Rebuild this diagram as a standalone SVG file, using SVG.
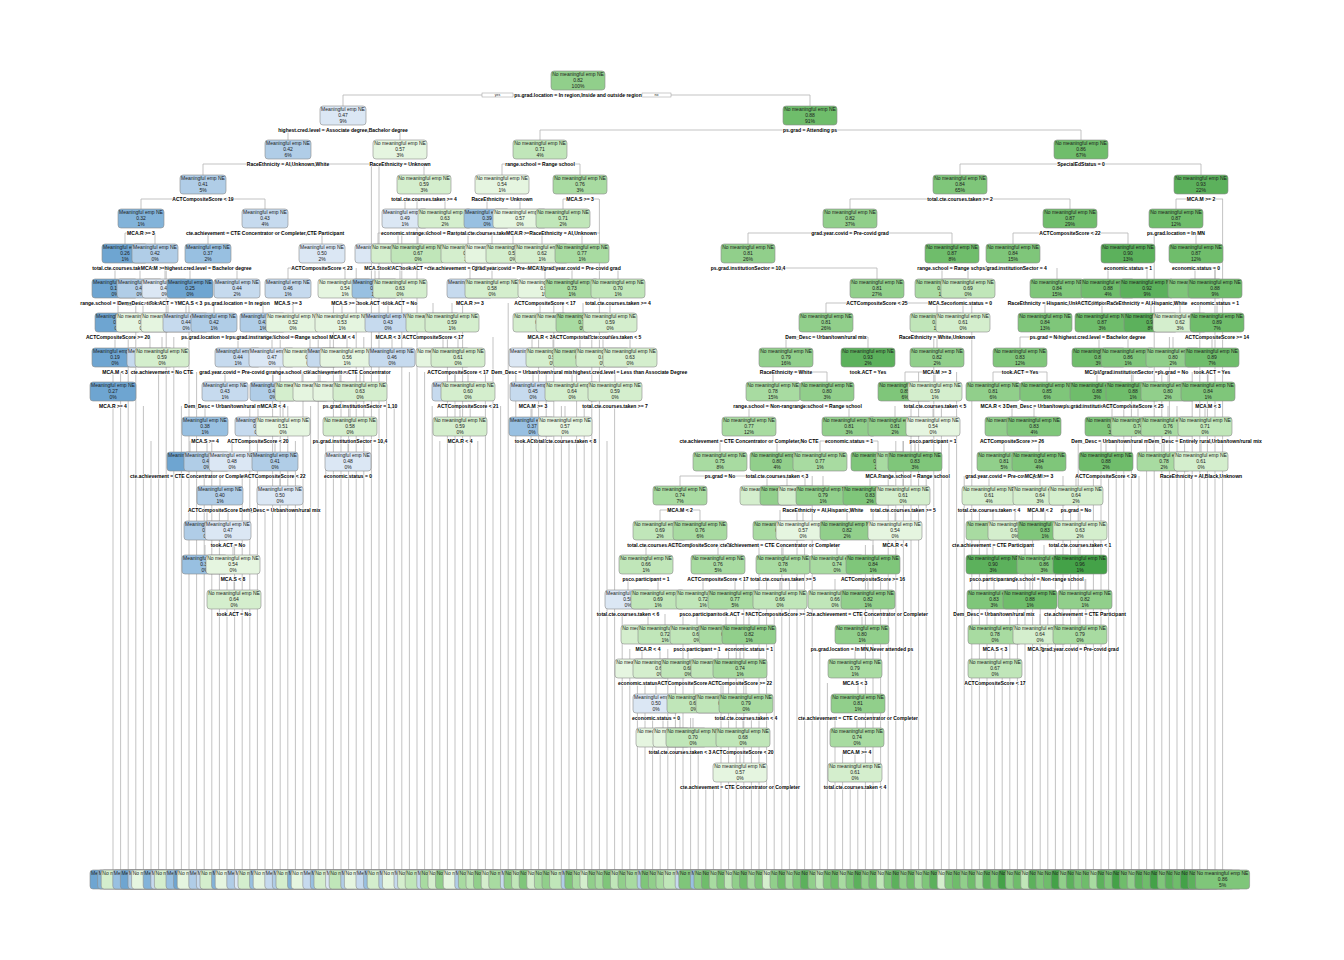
<svg xmlns="http://www.w3.org/2000/svg" width="1344" height="960" viewBox="0 0 1344 960">
<style>
text{font-family:"Liberation Sans",Arial,sans-serif;font-size:5px;text-anchor:middle;fill:#1c1c1c}
.s{font-weight:bold;fill:#000;stroke:#fff;stroke-width:1.2px;paint-order:stroke;stroke-linejoin:round}
rect{height:19px;y:0;rx:3px;stroke:#8c8c8c;stroke-width:.6px}
.w{x:-27px;width:54px}
.m{x:-23px;width:46px}
.c{fill:none;stroke:#b4b4b4;stroke-width:.8}
.g1{fill:#e5f5e0}.g2{fill:#d4eecd}.g3{fill:#c0e6b9}.g4{fill:#a8dba1}.g5{fill:#91cf8b}.g6{fill:#7fc67a}.g7{fill:#6fbd6b}.g8{fill:#5cb15c}.g9{fill:#44a248}
.b1{fill:#dbe7f4}.b2{fill:#c6daee}.b3{fill:#b0cde7}.b4{fill:#98c0e1}.b5{fill:#82b3d9}.b6{fill:#6ea5d1}
.yn{fill:#fff;stroke:#999;stroke-width:.5px}
.t{font-size:3.5px}
</style>
<g id="connectors">
<path class="c" d="M343 95H810M288 130H400M540 130H1081M203 164H371M379 164H424M502 164H580M960 164H1201M141 199H265M405 199H445M487 199H520M563 199H599M850 199H1070M1176 199H1223M125 233H155M208 233H322M378 233H398M418 233H468M513 233H542M582 233H600M748 233H952M1013 233H1128M1154 233H1196M115 268H140M165 268H190M190 268H237M288 268H345M748 268H877M942 268H968M1108 268H1147M1195 268H1215M826 303H937M1045 303H1102M1151 303H1180M786 337H868M1020 337H1099M773 372H827M905 372H935M993 372H1047M749 406H773M827 406H849M720 441H777M820 441H878M680 476H787M660 510H700M646 545H718M862 614H868M855 649H862M855 683H858M857 718H858M855 752H857M989 510H1015"/>
<path class="c" d="M343 95V106M810 95V106M288 130V140M400 130V140M540 130V140M1081 130V140M203 164V175M424 164V175M502 164V175M580 164V175M960 164V175M1201 164V175M141 199V209M265 199V209M405 199V209M445 199V209M487 199V209M520 199V209M563 199V209M850 199V209M1070 199V209M1176 199V209M125 233V244M155 233V244M208 233V244M322 233V244M378 233V244M398 233V244M418 233V244M468 233V244M492 233V244M513 233V244M542 233V244M582 233V244M748 233V244M952 233V244M1013 233V244M1128 233V244M1196 233V244M115 268V279M140 268V279M165 268V279M190 268V279M237 268V279M288 268V279M345 268V279M375 268V279M400 268V279M470 268V279M492 268V279M545 268V279M572 268V279M618 268V279M877 268V279M942 268V279M968 268V279M1057 268V279M1108 268V279M1147 268V279M1195 268V279M1215 268V279M118 303V313M143 303V313M168 303V313M186 303V313M214 303V313M263 303V313M293 303V313M342 303V313M388 303V313M433 303V313M452 303V313M540 303V313M563 303V313M583 303V313M610 303V313M826 303V313M937 303V313M963 303V313M1045 303V313M1102 303V313M1151 303V313M1180 303V313M1217 303V313M115 337V348M150 337V348M162 337V348M238 337V348M272 337V348M310 337V348M330 337V348M347 337V348M392 337V348M443 337V348M458 337V348M532 337V348M553 337V348M580 337V348M603 337V348M630 337V348M786 337V348M868 337V348M937 337V348M1020 337V348M1099 337V348M1128 337V348M1173 337V348M1212 337V348M113 372V382M225 372V382M273 372V382M302 372V382M320 372V382M340 372V382M360 372V382M455 372V382M468 372V382M533 372V382M572 372V382M615 372V382M773 372V382M827 372V382M905 372V382M935 372V382M993 372V382M1047 372V382M1097 372V382M1133 372V382M1168 372V382M1208 372V382M205 406V417M258 406V417M283 406V417M350 406V417M460 406V417M532 406V417M565 406V417M749 406V417M849 406V417M895 406V417M933 406V417M1012 406V417M1034 406V417M1112 406V417M1138 406V417M1168 406V417M1205 406V417M190 441V452M207 441V452M232 441V452M275 441V452M348 441V452M720 441V452M777 441V452M820 441V452M878 441V452M903 441V452M915 441V452M1004 441V452M1039 441V452M1106 441V452M1164 441V452M1201 441V452M220 476V486M280 476V486M680 476V486M767 476V486M787 476V486M805 476V486M823 476V486M870 476V486M903 476V486M989 476V486M1040 476V486M1076 476V486M207 510V521M228 510V521M660 510V521M700 510V521M780 510V521M803 510V521M847 510V521M895 510V521M993 510V521M1015 510V521M1045 510V521M1080 510V521M205 545V555M233 545V555M646 545V555M718 545V555M783 545V555M837 545V555M873 545V555M993 545V555M1044 545V555M1080 545V555M234 579V590M628 579V590M658 579V590M703 579V590M735 579V590M780 579V590M835 579V590M868 579V590M994 579V590M1030 579V590M1085 579V590M648 614V625M665 614V625M697 614V625M726 614V625M749 614V625M862 614V625M995 614V625M1040 614V625M1080 614V625M642 649V659M660 649V659M688 649V659M718 649V659M740 649V659M855 649V659M995 649V659M656 683V694M694 683V694M723 683V694M746 683V694M858 683V694M663 718V728M680 718V728M693 718V728M743 718V728M857 718V728M740 752V763M855 752V763"/>
<path class="c" d="M113 406V870M120.6 372V870M128.2 337V870M135.8 303V870M143.4 406V870M151 441V870M158.6 372V870M166.2 268V870M173.8 337V870M181.4 406V870M189 303V870M196.6 372V870M204.2 476V870M211.8 441V870M219.4 510V870M227 579V870M234.6 545V870M242.2 476V870M249.8 406V870M257.4 441V870M265 510V870M272.6 372V870M280.2 337V870M287.8 406V870M295.4 441V870M303 372V870M310.6 406V870M318.2 337V870M325.8 441V870M333.4 303V870M341 372V870M348.6 406V870M356.2 268V870M363.8 337V870M371.4 164V870M379 164V870M386.6 372V870M394.2 406V870M401.8 233V870M409.4 372V870M417 199V870M424.6 372V870M432.2 406V870M439.8 441V870M447.4 337V870M455 372V870M462.6 303V870M470.2 406V870M477.8 441V870M485.4 372V870M493 337V870M500.6 406V870M508.2 303V870M515.8 372V870M523.4 441V870M531 406V870M538.6 337V870M546.2 372V870M553.8 303V870M561.4 406V870M569 441V870M576.6 372V870M584.2 406V870M591.8 337V870M599.4 199V870M607 441V870M614.6 406V870M622.2 614V870M629.8 649V870M637.4 683V870M645 683V870M652.6 718V870M660.2 752V870M667.8 649V870M675.4 683V870M683 614V870M690.6 718V870M698.2 752V870M705.8 787V870M713.4 787V870M721 683V870M728.6 649V870M736.2 614V870M743.8 579V870M751.4 718V870M759 545V870M766.6 579V870M774.2 614V870M781.8 545V870M789.4 579V870M797 510V870M804.6 545V870M812.2 476V870M819.8 649V870M827.4 683V870M835 718V870M842.6 752V870M850.2 787V870M857.8 787V870M865.4 545V870M873 510V870M880.6 579V870M888.2 476V870M895.8 441V870M903.4 441V870M911 406V870M918.6 372V870M926.2 476V870M933.8 337V870M941.4 406V870M949 441V870M956.6 372V870M964.2 476V870M971.8 303V870M979.4 510V870M987 545V870M994.6 683V870M1002.2 649V870M1009.8 614V870M1017.4 579V870M1025 545V870M1032.6 510V870M1040.2 579V870M1047.8 614V870M1055.4 545V870M1063 476V870M1070.6 510V870M1078.2 441V870M1085.8 579V870M1093.4 476V870M1101 441V870M1108.6 476V870M1116.2 441V870M1123.8 406V870M1131.4 372V870M1139 476V870M1146.6 441V870M1154.2 233V870M1161.8 372V870M1169.4 337V870M1177 406V870M1184.6 441V870M1192.2 372V870M1199.8 303V870M1207.4 372V870M1215 268V870M1222.6 199V870"/>
</g>
<g id="n0" transform="translate(578,71)"><rect class="w g5"/><text y="5.2">No meaningful emp NE<tspan x="0" dy="6">0.82</tspan><tspan x="0" dy="6">100%</tspan></text><rect class="yn" style="x:-96px;y:22px;width:31px;height:4px;rx:0"/><text class="t" x="-80.5" y="25.3">yes</text><rect class="yn" style="x:64px;y:22px;width:29px;height:4px;rx:0"/><text class="t" x="78.5" y="25.3">no</text><text class="s" y="25.8">ps.grad.location = In region,Inside and outside region</text></g>
<g id="n1" transform="translate(343,106)"><rect class="m b1"/><text y="5.2">Meaningful emp NE<tspan x="0" dy="6">0.47</tspan><tspan x="0" dy="6">9%</tspan></text><text class="s" y="25.8">highest.cred.level = Associate degree,Bachelor degree</text></g>
<g id="n2" transform="translate(810,106)"><rect class="w g7"/><text y="5.2">No meaningful emp NE<tspan x="0" dy="6">0.88</tspan><tspan x="0" dy="6">91%</tspan></text><text class="s" y="25.8">ps.grad = Attending ps</text></g>
<g id="n3" transform="translate(288,140)"><rect class="m b3"/><text y="5.2">Meaningful emp NE<tspan x="0" dy="6">0.42</tspan><tspan x="0" dy="6">6%</tspan></text><text class="s" y="25.8">RaceEthnicity = AI,Unknown,White</text></g>
<g id="n4" transform="translate(400,140)"><rect class="w g1"/><text y="5.2">No meaningful emp NE<tspan x="0" dy="6">0.57</tspan><tspan x="0" dy="6">3%</tspan></text><text class="s" y="25.8">RaceEthnicity = Unknown</text></g>
<g id="n5" transform="translate(540,140)"><rect class="w g3"/><text y="5.2">No meaningful emp NE<tspan x="0" dy="6">0.71</tspan><tspan x="0" dy="6">4%</tspan></text><text class="s" y="25.8">range.school = Range school</text></g>
<g id="n6" transform="translate(1081,140)"><rect class="w g7"/><text y="5.2">No meaningful emp NE<tspan x="0" dy="6">0.86</tspan><tspan x="0" dy="6">67%</tspan></text><text class="s" y="25.8">SpecialEdStatus = 0</text></g>
<g id="n7" transform="translate(203,175)"><rect class="m b3"/><text y="5.2">Meaningful emp NE<tspan x="0" dy="6">0.41</tspan><tspan x="0" dy="6">5%</tspan></text><text class="s" y="25.8">ACTCompositeScore &lt; 19</text></g>
<g id="n8" transform="translate(424,175)"><rect class="w g2"/><text y="5.2">No meaningful emp NE<tspan x="0" dy="6">0.59</tspan><tspan x="0" dy="6">3%</tspan></text><text class="s" y="25.8">total.cte.courses.taken &gt;= 4</text></g>
<g id="n9" transform="translate(502,175)"><rect class="w g1"/><text y="5.2">No meaningful emp NE<tspan x="0" dy="6">0.54</tspan><tspan x="0" dy="6">1%</tspan></text><text class="s" y="25.8">RaceEthnicity = Unknown</text></g>
<g id="n10" transform="translate(580,175)"><rect class="w g4"/><text y="5.2">No meaningful emp NE<tspan x="0" dy="6">0.76</tspan><tspan x="0" dy="6">3%</tspan></text><text class="s" y="25.8">MCA.S &gt;= 3</text></g>
<g id="n11" transform="translate(960,175)"><rect class="w g6"/><text y="5.2">No meaningful emp NE<tspan x="0" dy="6">0.84</tspan><tspan x="0" dy="6">65%</tspan></text><text class="s" y="25.8">total.cte.courses.taken &gt;= 2</text></g>
<g id="n12" transform="translate(1201,175)"><rect class="w g8"/><text y="5.2">No meaningful emp NE<tspan x="0" dy="6">0.93</tspan><tspan x="0" dy="6">22%</tspan></text><text class="s" y="25.8">MCA.M &gt;= 2</text></g>
<g id="n13" transform="translate(141,209)"><rect class="m b5"/><text y="5.2">Meaningful emp NE<tspan x="0" dy="6">0.32</tspan><tspan x="0" dy="6">1%</tspan></text><text class="s" y="25.8">MCA.R &gt;= 3</text></g>
<g id="n14" transform="translate(265,209)"><rect class="m b2"/><text y="5.2">Meaningful emp NE<tspan x="0" dy="6">0.43</tspan><tspan x="0" dy="6">4%</tspan></text><text class="s" y="25.8">cte.achievement = CTE Concentrator or Completer,CTE Participant</text></g>
<g id="n15" transform="translate(405,209)"><rect class="m b1"/><text y="5.2">Meaningful emp NE<tspan x="0" dy="6">0.49</tspan><tspan x="0" dy="6">1%</tspan></text><text class="s" y="25.8">economic.status = 1</text></g>
<g id="n16" transform="translate(445,209)"><rect class="w g2"/><text y="5.2">No meaningful emp NE<tspan x="0" dy="6">0.63</tspan><tspan x="0" dy="6">2%</tspan></text><text class="s" y="25.8">range.school = Range school</text></g>
<g id="n17" transform="translate(487,209)"><rect class="m b4"/><text y="5.2">Meaningful emp NE<tspan x="0" dy="6">0.39</tspan><tspan x="0" dy="6">0%</tspan></text><text class="s" y="25.8">total.cte.courses.taken &lt; 5</text></g>
<g id="n18" transform="translate(520,209)"><rect class="w g1"/><text y="5.2">No meaningful emp NE<tspan x="0" dy="6">0.57</tspan><tspan x="0" dy="6">0%</tspan></text><text class="s" y="25.8">MCA.R &gt;= 3</text></g>
<g id="n19" transform="translate(563,209)"><rect class="w g3"/><text y="5.2">No meaningful emp NE<tspan x="0" dy="6">0.71</tspan><tspan x="0" dy="6">2%</tspan></text><text class="s" y="25.8">RaceEthnicity = AI,Unknown</text></g>
<g id="n20" transform="translate(850,209)"><rect class="w g5"/><text y="5.2">No meaningful emp NE<tspan x="0" dy="6">0.82</tspan><tspan x="0" dy="6">37%</tspan></text><text class="s" y="25.8">grad.year.covid = Pre-covid grad</text></g>
<g id="n21" transform="translate(1070,209)"><rect class="w g7"/><text y="5.2">No meaningful emp NE<tspan x="0" dy="6">0.87</tspan><tspan x="0" dy="6">29%</tspan></text><text class="s" y="25.8">ACTCompositeScore &lt; 22</text></g>
<g id="n22" transform="translate(1176,209)"><rect class="w g7"/><text y="5.2">No meaningful emp NE<tspan x="0" dy="6">0.87</tspan><tspan x="0" dy="6">12%</tspan></text><text class="s" y="25.8">ps.grad.location = In MN</text></g>
<g id="n23" transform="translate(125,244)"><rect class="m b6"/><text y="5.2">Meaningful emp NE<tspan x="0" dy="6">0.26</tspan><tspan x="0" dy="6">1%</tspan></text><text class="s" y="25.8">total.cte.courses.taken &gt;= 3</text></g>
<g id="n24" transform="translate(155,244)"><rect class="m b3"/><text y="5.2">Meaningful emp NE<tspan x="0" dy="6">0.42</tspan><tspan x="0" dy="6">0%</tspan></text><text class="s" y="25.8">MCA.M &gt;= 3</text></g>
<g id="n25" transform="translate(208,244)"><rect class="m b4"/><text y="5.2">Meaningful emp NE<tspan x="0" dy="6">0.37</tspan><tspan x="0" dy="6">2%</tspan></text><text class="s" y="25.8">highest.cred.level = Bachelor degree</text></g>
<g id="n26" transform="translate(322,244)"><rect class="m b1"/><text y="5.2">Meaningful emp NE<tspan x="0" dy="6">0.50</tspan><tspan x="0" dy="6">2%</tspan></text><text class="s" y="25.8">ACTCompositeScore &lt; 23</text></g>
<g id="n27" transform="translate(378,244)"><rect class="m b1"/><text y="5.2">Meaningful emp NE<tspan x="0" dy="6">0.48</tspan><tspan x="0" dy="6">1%</tspan></text><text class="s" y="25.8">MCA.S &gt;= 3</text></g>
<g id="n28" transform="translate(398,244)"><rect class="w g2"/><text y="5.2">No meaningful emp NE<tspan x="0" dy="6">0.62</tspan><tspan x="0" dy="6">1%</tspan></text><text class="s" y="25.8">took.ACT = Yes</text></g>
<g id="n29" transform="translate(418,244)"><rect class="w g3"/><text y="5.2">No meaningful emp NE<tspan x="0" dy="6">0.67</tspan><tspan x="0" dy="6">0%</tspan></text><text class="s" y="25.8">took.ACT = No</text></g>
<g id="n30" transform="translate(468,244)"><rect class="w g2"/><text y="5.2">No meaningful emp NE<tspan x="0" dy="6">0.64</tspan><tspan x="0" dy="6">2%</tspan></text><text class="s" y="25.8">cte.achievement = CTE Participant</text></g>
<g id="n31" transform="translate(492,244)"><rect class="w g1"/><text y="5.2">No meaningful emp NE<tspan x="0" dy="6">0.55</tspan><tspan x="0" dy="6">0%</tspan></text></g>
<g id="n32" transform="translate(513,244)"><rect class="w g2"/><text y="5.2">No meaningful emp NE<tspan x="0" dy="6">0.58</tspan><tspan x="0" dy="6">0%</tspan></text><text class="s" y="25.8">grad.year.covid = Pre-covid grad</text></g>
<g id="n33" transform="translate(542,244)"><rect class="w g2"/><text y="5.2">No meaningful emp NE<tspan x="0" dy="6">0.62</tspan><tspan x="0" dy="6">1%</tspan></text><text class="s" y="25.8">MCA.M &gt;= 3</text></g>
<g id="n34" transform="translate(582,244)"><rect class="w g4"/><text y="5.2">No meaningful emp NE<tspan x="0" dy="6">0.77</tspan><tspan x="0" dy="6">1%</tspan></text><text class="s" y="25.8">grad.year.covid = Pre-covid grad</text></g>
<g id="n35" transform="translate(748,244)"><rect class="w g5"/><text y="5.2">No meaningful emp NE<tspan x="0" dy="6">0.81</tspan><tspan x="0" dy="6">26%</tspan></text><text class="s" y="25.8">ps.grad.institutionSector = 10,4</text></g>
<g id="n36" transform="translate(952,244)"><rect class="w g7"/><text y="5.2">No meaningful emp NE<tspan x="0" dy="6">0.87</tspan><tspan x="0" dy="6">8%</tspan></text><text class="s" y="25.8">range.school = Range school</text></g>
<g id="n37" transform="translate(1013,244)"><rect class="w g6"/><text y="5.2">No meaningful emp NE<tspan x="0" dy="6">0.84</tspan><tspan x="0" dy="6">15%</tspan></text><text class="s" y="25.8">ps.grad.institutionSector = 4</text></g>
<g id="n38" transform="translate(1128,244)"><rect class="w g8"/><text y="5.2">No meaningful emp NE<tspan x="0" dy="6">0.90</tspan><tspan x="0" dy="6">13%</tspan></text><text class="s" y="25.8">economic.status = 1</text></g>
<g id="n39" transform="translate(1196,244)"><rect class="w g7"/><text y="5.2">No meaningful emp NE<tspan x="0" dy="6">0.87</tspan><tspan x="0" dy="6">12%</tspan></text><text class="s" y="25.8">economic.status = 0</text></g>
<g id="n40" transform="translate(115,279)"><rect class="m b6"/><text y="5.2">Meaningful emp NE<tspan x="0" dy="6">0.19</tspan><tspan x="0" dy="6">0%</tspan></text><text class="s" y="25.8">range.school = Range school</text></g>
<g id="n41" transform="translate(140,279)"><rect class="m b3"/><text y="5.2">Meaningful emp NE<tspan x="0" dy="6">0.41</tspan><tspan x="0" dy="6">0%</tspan></text><text class="s" y="25.8">Dem_Desc = Rural</text></g>
<g id="n42" transform="translate(165,279)"><rect class="m b1"/><text y="5.2">Meaningful emp NE<tspan x="0" dy="6">0.48</tspan><tspan x="0" dy="6">0%</tspan></text><text class="s" y="25.8">took.ACT = Yes</text></g>
<g id="n43" transform="translate(190,279)"><rect class="m b6"/><text y="5.2">Meaningful emp NE<tspan x="0" dy="6">0.25</tspan><tspan x="0" dy="6">0%</tspan></text><text class="s" y="25.8">MCA.S &lt; 3</text></g>
<g id="n44" transform="translate(237,279)"><rect class="m b2"/><text y="5.2">Meaningful emp NE<tspan x="0" dy="6">0.44</tspan><tspan x="0" dy="6">2%</tspan></text><text class="s" y="25.8">ps.grad.location = In region</text></g>
<g id="n45" transform="translate(288,279)"><rect class="m b2"/><text y="5.2">Meaningful emp NE<tspan x="0" dy="6">0.46</tspan><tspan x="0" dy="6">1%</tspan></text><text class="s" y="25.8">MCA.S &gt;= 3</text></g>
<g id="n46" transform="translate(345,279)"><rect class="w g1"/><text y="5.2">No meaningful emp NE<tspan x="0" dy="6">0.54</tspan><tspan x="0" dy="6">1%</tspan></text><text class="s" y="25.8">MCA.S &gt;= 3</text></g>
<g id="n47" transform="translate(375,279)"><rect class="m b4"/><text y="5.2">Meaningful emp NE<tspan x="0" dy="6">0.37</tspan><tspan x="0" dy="6">1%</tspan></text><text class="s" y="25.8">took.ACT = No</text></g>
<g id="n48" transform="translate(400,279)"><rect class="w g2"/><text y="5.2">No meaningful emp NE<tspan x="0" dy="6">0.63</tspan><tspan x="0" dy="6">0%</tspan></text><text class="s" y="25.8">took.ACT = No</text></g>
<g id="n49" transform="translate(470,279)"><rect class="m b2"/><text y="5.2">Meaningful emp NE<tspan x="0" dy="6">0.45</tspan><tspan x="0" dy="6">0%</tspan></text><text class="s" y="25.8">MCA.R &gt;= 3</text></g>
<g id="n50" transform="translate(492,279)"><rect class="w g2"/><text y="5.2">No meaningful emp NE<tspan x="0" dy="6">0.58</tspan><tspan x="0" dy="6">0%</tspan></text></g>
<g id="n51" transform="translate(545,279)"><rect class="w g1"/><text y="5.2">No meaningful emp NE<tspan x="0" dy="6">0.57</tspan><tspan x="0" dy="6">1%</tspan></text><text class="s" y="25.8">ACTCompositeScore &lt; 17</text></g>
<g id="n52" transform="translate(572,279)"><rect class="w g4"/><text y="5.2">No meaningful emp NE<tspan x="0" dy="6">0.73</tspan><tspan x="0" dy="6">1%</tspan></text></g>
<g id="n53" transform="translate(618,279)"><rect class="w g3"/><text y="5.2">No meaningful emp NE<tspan x="0" dy="6">0.70</tspan><tspan x="0" dy="6">1%</tspan></text><text class="s" y="25.8">total.cte.courses.taken &gt;= 4</text></g>
<g id="n54" transform="translate(877,279)"><rect class="w g5"/><text y="5.2">No meaningful emp NE<tspan x="0" dy="6">0.81</tspan><tspan x="0" dy="6">27%</tspan></text><text class="s" y="25.8">ACTCompositeScore &lt; 25</text></g>
<g id="n55" transform="translate(942,279)"><rect class="w g4"/><text y="5.2">No meaningful emp NE<tspan x="0" dy="6">0.74</tspan><tspan x="0" dy="6">1%</tspan></text><text class="s" y="25.8">MCA.S &gt;= 4</text></g>
<g id="n56" transform="translate(968,279)"><rect class="w g3"/><text y="5.2">No meaningful emp NE<tspan x="0" dy="6">0.69</tspan><tspan x="0" dy="6">0%</tspan></text><text class="s" y="25.8">economic.status = 0</text></g>
<g id="n57" transform="translate(1057,279)"><rect class="w g6"/><text y="5.2">No meaningful emp NE<tspan x="0" dy="6">0.84</tspan><tspan x="0" dy="6">15%</tspan></text><text class="s" y="25.8">RaceEthnicity = Hispanic,Unknown,White</text></g>
<g id="n58" transform="translate(1108,279)"><rect class="w g7"/><text y="5.2">No meaningful emp NE<tspan x="0" dy="6">0.88</tspan><tspan x="0" dy="6">4%</tspan></text><text class="s" y="25.8">ACTCompositeScore &lt; 28</text></g>
<g id="n59" transform="translate(1147,279)"><rect class="w g8"/><text y="5.2">No meaningful emp NE<tspan x="0" dy="6">0.92</tspan><tspan x="0" dy="6">9%</tspan></text><text class="s" y="25.8">RaceEthnicity = AI,Hispanic,White</text></g>
<g id="n60" transform="translate(1195,279)"><rect class="w g6"/><text y="5.2">No meaningful emp NE<tspan x="0" dy="6">0.84</tspan><tspan x="0" dy="6">3%</tspan></text></g>
<g id="n61" transform="translate(1215,279)"><rect class="w g7"/><text y="5.2">No meaningful emp NE<tspan x="0" dy="6">0.88</tspan><tspan x="0" dy="6">9%</tspan></text><text class="s" y="25.8">economic.status = 1</text></g>
<g id="n62" transform="translate(118,313)"><rect class="m b6"/><text y="5.2">Meaningful emp NE<tspan x="0" dy="6">0.24</tspan><tspan x="0" dy="6">0%</tspan></text><text class="s" y="25.8">ACTCompositeScore &gt;= 20</text></g>
<g id="n63" transform="translate(143,313)"><rect class="w g1"/><text y="5.2">No meaningful emp NE<tspan x="0" dy="6">0.55</tspan><tspan x="0" dy="6">0%</tspan></text></g>
<g id="n64" transform="translate(168,313)"><rect class="w g1"/><text y="5.2">No meaningful emp NE<tspan x="0" dy="6">0.51</tspan><tspan x="0" dy="6">0%</tspan></text></g>
<g id="n65" transform="translate(186,313)"><rect class="m b2"/><text y="5.2">Meaningful emp NE<tspan x="0" dy="6">0.44</tspan><tspan x="0" dy="6">0%</tspan></text></g>
<g id="n66" transform="translate(214,313)"><rect class="m b3"/><text y="5.2">Meaningful emp NE<tspan x="0" dy="6">0.42</tspan><tspan x="0" dy="6">1%</tspan></text><text class="s" y="25.8">ps.grad.location = In region</text></g>
<g id="n67" transform="translate(263,313)"><rect class="m b3"/><text y="5.2">Meaningful emp NE<tspan x="0" dy="6">0.41</tspan><tspan x="0" dy="6">1%</tspan></text><text class="s" y="25.8">ps.grad.institutionSector = 4</text></g>
<g id="n68" transform="translate(293,313)"><rect class="w g1"/><text y="5.2">No meaningful emp NE<tspan x="0" dy="6">0.52</tspan><tspan x="0" dy="6">0%</tspan></text><text class="s" y="25.8">range.school = Range school</text></g>
<g id="n69" transform="translate(342,313)"><rect class="w g1"/><text y="5.2">No meaningful emp NE<tspan x="0" dy="6">0.53</tspan><tspan x="0" dy="6">1%</tspan></text><text class="s" y="25.8">MCA.M &lt; 4</text></g>
<g id="n70" transform="translate(388,313)"><rect class="m b2"/><text y="5.2">Meaningful emp NE<tspan x="0" dy="6">0.43</tspan><tspan x="0" dy="6">0%</tspan></text><text class="s" y="25.8">MCA.R &lt; 3</text></g>
<g id="n71" transform="translate(433,313)"><rect class="w g2"/><text y="5.2">No meaningful emp NE<tspan x="0" dy="6">0.63</tspan><tspan x="0" dy="6">1%</tspan></text><text class="s" y="25.8">ACTCompositeScore &lt; 17</text></g>
<g id="n72" transform="translate(452,313)"><rect class="w g2"/><text y="5.2">No meaningful emp NE<tspan x="0" dy="6">0.59</tspan><tspan x="0" dy="6">1%</tspan></text></g>
<g id="n73" transform="translate(540,313)"><rect class="w g2"/><text y="5.2">No meaningful emp NE<tspan x="0" dy="6">0.61</tspan><tspan x="0" dy="6">1%</tspan></text><text class="s" y="25.8">MCA.R &lt; 3</text></g>
<g id="n74" transform="translate(563,313)"><rect class="w g2"/><text y="5.2">No meaningful emp NE<tspan x="0" dy="6">0.62</tspan><tspan x="0" dy="6">0%</tspan></text></g>
<g id="n75" transform="translate(583,313)"><rect class="w g4"/><text y="5.2">No meaningful emp NE<tspan x="0" dy="6">0.77</tspan><tspan x="0" dy="6">0%</tspan></text><text class="s" y="25.8">ACTCompositeScore &lt; 19</text></g>
<g id="n76" transform="translate(610,313)"><rect class="w g2"/><text y="5.2">No meaningful emp NE<tspan x="0" dy="6">0.59</tspan><tspan x="0" dy="6">0%</tspan></text><text class="s" y="25.8">total.cte.courses.taken &lt; 5</text></g>
<g id="n77" transform="translate(826,313)"><rect class="w g5"/><text y="5.2">No meaningful emp NE<tspan x="0" dy="6">0.81</tspan><tspan x="0" dy="6">26%</tspan></text><text class="s" y="25.8">Dem_Desc = Urban/town/rural mix</text></g>
<g id="n78" transform="translate(937,313)"><rect class="w g3"/><text y="5.2">No meaningful emp NE<tspan x="0" dy="6">0.67</tspan><tspan x="0" dy="6">1%</tspan></text><text class="s" y="25.8">RaceEthnicity = White,Unknown</text></g>
<g id="n79" transform="translate(963,313)"><rect class="w g2"/><text y="5.2">No meaningful emp NE<tspan x="0" dy="6">0.61</tspan><tspan x="0" dy="6">0%</tspan></text></g>
<g id="n80" transform="translate(1045,313)"><rect class="w g6"/><text y="5.2">No meaningful emp NE<tspan x="0" dy="6">0.84</tspan><tspan x="0" dy="6">13%</tspan></text><text class="s" y="25.8">ps.grad = No</text></g>
<g id="n81" transform="translate(1102,313)"><rect class="w g7"/><text y="5.2">No meaningful emp NE<tspan x="0" dy="6">0.87</tspan><tspan x="0" dy="6">3%</tspan></text><text class="s" y="25.8">highest.cred.level = Bachelor degree</text></g>
<g id="n82" transform="translate(1151,313)"><rect class="w g8"/><text y="5.2">No meaningful emp NE<tspan x="0" dy="6">0.91</tspan><tspan x="0" dy="6">8%</tspan></text></g>
<g id="n83" transform="translate(1180,313)"><rect class="w g2"/><text y="5.2">No meaningful emp NE<tspan x="0" dy="6">0.62</tspan><tspan x="0" dy="6">3%</tspan></text></g>
<g id="n84" transform="translate(1217,313)"><rect class="w g7"/><text y="5.2">No meaningful emp NE<tspan x="0" dy="6">0.89</tspan><tspan x="0" dy="6">7%</tspan></text><text class="s" y="25.8">ACTCompositeScore &gt;= 14</text></g>
<g id="n85" transform="translate(115,348)"><rect class="m b6"/><text y="5.2">Meaningful emp NE<tspan x="0" dy="6">0.19</tspan><tspan x="0" dy="6">0%</tspan></text><text class="s" y="25.8">MCA.M &lt; 3</text></g>
<g id="n86" transform="translate(150,348)"><rect class="m b2"/><text y="5.2">Meaningful emp NE<tspan x="0" dy="6">0.43</tspan><tspan x="0" dy="6">0%</tspan></text></g>
<g id="n87" transform="translate(162,348)"><rect class="w g2"/><text y="5.2">No meaningful emp NE<tspan x="0" dy="6">0.59</tspan><tspan x="0" dy="6">0%</tspan></text><text class="s" y="25.8">cte.achievement = No CTE</text></g>
<g id="n88" transform="translate(238,348)"><rect class="m b2"/><text y="5.2">Meaningful emp NE<tspan x="0" dy="6">0.44</tspan><tspan x="0" dy="6">1%</tspan></text><text class="s" y="25.8">grad.year.covid = Pre-covid grad</text></g>
<g id="n89" transform="translate(272,348)"><rect class="m b1"/><text y="5.2">Meaningful emp NE<tspan x="0" dy="6">0.47</tspan><tspan x="0" dy="6">0%</tspan></text></g>
<g id="n90" transform="translate(310,348)"><rect class="w g1"/><text y="5.2">No meaningful emp NE<tspan x="0" dy="6">0.56</tspan><tspan x="0" dy="6">0%</tspan></text><text class="s" y="25.8">range.school = Non-range school</text></g>
<g id="n91" transform="translate(330,348)"><rect class="m b2"/><text y="5.2">Meaningful emp NE<tspan x="0" dy="6">0.43</tspan><tspan x="0" dy="6">0%</tspan></text></g>
<g id="n92" transform="translate(347,348)"><rect class="w g1"/><text y="5.2">No meaningful emp NE<tspan x="0" dy="6">0.56</tspan><tspan x="0" dy="6">1%</tspan></text><text class="s" y="25.8">cte.achievement = CTE Concentrator</text></g>
<g id="n93" transform="translate(392,348)"><rect class="m b2"/><text y="5.2">Meaningful emp NE<tspan x="0" dy="6">0.46</tspan><tspan x="0" dy="6">0%</tspan></text></g>
<g id="n94" transform="translate(443,348)"><rect class="w g1"/><text y="5.2">No meaningful emp NE<tspan x="0" dy="6">0.54</tspan><tspan x="0" dy="6">0%</tspan></text></g>
<g id="n95" transform="translate(458,348)"><rect class="w g2"/><text y="5.2">No meaningful emp NE<tspan x="0" dy="6">0.61</tspan><tspan x="0" dy="6">0%</tspan></text><text class="s" y="25.8">ACTCompositeScore &lt; 17</text></g>
<g id="n96" transform="translate(532,348)"><rect class="m b1"/><text y="5.2">Meaningful emp NE<tspan x="0" dy="6">0.50</tspan><tspan x="0" dy="6">0%</tspan></text><text class="s" y="25.8">Dem_Desc = Urban/town/rural mix</text></g>
<g id="n97" transform="translate(553,348)"><rect class="w g2"/><text y="5.2">No meaningful emp NE<tspan x="0" dy="6">0.58</tspan><tspan x="0" dy="6">0%</tspan></text></g>
<g id="n98" transform="translate(580,348)"><rect class="w g3"/><text y="5.2">No meaningful emp NE<tspan x="0" dy="6">0.70</tspan><tspan x="0" dy="6">0%</tspan></text></g>
<g id="n99" transform="translate(603,348)"><rect class="w g2"/><text y="5.2">No meaningful emp NE<tspan x="0" dy="6">0.61</tspan><tspan x="0" dy="6">0%</tspan></text></g>
<g id="n100" transform="translate(630,348)"><rect class="w g2"/><text y="5.2">No meaningful emp NE<tspan x="0" dy="6">0.63</tspan><tspan x="0" dy="6">0%</tspan></text><text class="s" y="25.8">highest.cred.level = Less than Associate Degree</text></g>
<g id="n101" transform="translate(786,348)"><rect class="w g5"/><text y="5.2">No meaningful emp NE<tspan x="0" dy="6">0.79</tspan><tspan x="0" dy="6">16%</tspan></text><text class="s" y="25.8">RaceEthnicity = White</text></g>
<g id="n102" transform="translate(868,348)"><rect class="w g8"/><text y="5.2">No meaningful emp NE<tspan x="0" dy="6">0.93</tspan><tspan x="0" dy="6">2%</tspan></text><text class="s" y="25.8">took.ACT = Yes</text></g>
<g id="n103" transform="translate(937,348)"><rect class="w g5"/><text y="5.2">No meaningful emp NE<tspan x="0" dy="6">0.82</tspan><tspan x="0" dy="6">2%</tspan></text><text class="s" y="25.8">MCA.M &gt;= 3</text></g>
<g id="n104" transform="translate(1020,348)"><rect class="w g6"/><text y="5.2">No meaningful emp NE<tspan x="0" dy="6">0.83</tspan><tspan x="0" dy="6">12%</tspan></text><text class="s" y="25.8">took.ACT = Yes</text></g>
<g id="n105" transform="translate(1099,348)"><rect class="w g7"/><text y="5.2">No meaningful emp NE<tspan x="0" dy="6">0.87</tspan><tspan x="0" dy="6">3%</tspan></text><text class="s" y="25.8">MCA.M &gt;= 4</text></g>
<g id="n106" transform="translate(1128,348)"><rect class="w g6"/><text y="5.2">No meaningful emp NE<tspan x="0" dy="6">0.86</tspan><tspan x="0" dy="6">1%</tspan></text><text class="s" y="25.8">ps.grad.institutionSector = 4</text></g>
<g id="n107" transform="translate(1173,348)"><rect class="w g5"/><text y="5.2">No meaningful emp NE<tspan x="0" dy="6">0.80</tspan><tspan x="0" dy="6">2%</tspan></text><text class="s" y="25.8">ps.grad = No</text></g>
<g id="n108" transform="translate(1212,348)"><rect class="w g7"/><text y="5.2">No meaningful emp NE<tspan x="0" dy="6">0.89</tspan><tspan x="0" dy="6">7%</tspan></text><text class="s" y="25.8">took.ACT = Yes</text></g>
<g id="n109" transform="translate(113,382)"><rect class="m b6"/><text y="5.2">Meaningful emp NE<tspan x="0" dy="6">0.27</tspan><tspan x="0" dy="6">0%</tspan></text><text class="s" y="25.8">MCA.R &gt;= 4</text></g>
<g id="n110" transform="translate(225,382)"><rect class="m b2"/><text y="5.2">Meaningful emp NE<tspan x="0" dy="6">0.43</tspan><tspan x="0" dy="6">1%</tspan></text><text class="s" y="25.8">Dem_Desc = Urban/town/rural mix</text></g>
<g id="n111" transform="translate(273,382)"><rect class="m b3"/><text y="5.2">Meaningful emp NE<tspan x="0" dy="6">0.42</tspan><tspan x="0" dy="6">0%</tspan></text><text class="s" y="25.8">MCA.R &lt; 4</text></g>
<g id="n112" transform="translate(302,382)"><rect class="w g2"/><text y="5.2">No meaningful emp NE<tspan x="0" dy="6">0.63</tspan><tspan x="0" dy="6">0%</tspan></text></g>
<g id="n113" transform="translate(320,382)"><rect class="w g1"/><text y="5.2">No meaningful emp NE<tspan x="0" dy="6">0.54</tspan><tspan x="0" dy="6">0%</tspan></text></g>
<g id="n114" transform="translate(340,382)"><rect class="w g1"/><text y="5.2">No meaningful emp NE<tspan x="0" dy="6">0.53</tspan><tspan x="0" dy="6">0%</tspan></text></g>
<g id="n115" transform="translate(360,382)"><rect class="w g2"/><text y="5.2">No meaningful emp NE<tspan x="0" dy="6">0.63</tspan><tspan x="0" dy="6">0%</tspan></text><text class="s" y="25.8">ps.grad.institutionSector = 1,10</text></g>
<g id="n116" transform="translate(455,382)"><rect class="m b2"/><text y="5.2">Meaningful emp NE<tspan x="0" dy="6">0.43</tspan><tspan x="0" dy="6">1%</tspan></text></g>
<g id="n117" transform="translate(468,382)"><rect class="w g2"/><text y="5.2">No meaningful emp NE<tspan x="0" dy="6">0.60</tspan><tspan x="0" dy="6">0%</tspan></text><text class="s" y="25.8">ACTCompositeScore &lt; 21</text></g>
<g id="n118" transform="translate(533,382)"><rect class="m b2"/><text y="5.2">Meaningful emp NE<tspan x="0" dy="6">0.45</tspan><tspan x="0" dy="6">0%</tspan></text><text class="s" y="25.8">MCA.M &gt;= 3</text></g>
<g id="n119" transform="translate(572,382)"><rect class="w g2"/><text y="5.2">No meaningful emp NE<tspan x="0" dy="6">0.64</tspan><tspan x="0" dy="6">0%</tspan></text></g>
<g id="n120" transform="translate(615,382)"><rect class="w g2"/><text y="5.2">No meaningful emp NE<tspan x="0" dy="6">0.59</tspan><tspan x="0" dy="6">0%</tspan></text><text class="s" y="25.8">total.cte.courses.taken &gt;= 7</text></g>
<g id="n121" transform="translate(773,382)"><rect class="w g4"/><text y="5.2">No meaningful emp NE<tspan x="0" dy="6">0.78</tspan><tspan x="0" dy="6">15%</tspan></text><text class="s" y="25.8">range.school = Non-range school</text></g>
<g id="n122" transform="translate(827,382)"><rect class="w g5"/><text y="5.2">No meaningful emp NE<tspan x="0" dy="6">0.80</tspan><tspan x="0" dy="6">3%</tspan></text><text class="s" y="25.8">range.school = Range school</text></g>
<g id="n123" transform="translate(905,382)"><rect class="w g6"/><text y="5.2">No meaningful emp NE<tspan x="0" dy="6">0.85</tspan><tspan x="0" dy="6">6%</tspan></text></g>
<g id="n124" transform="translate(935,382)"><rect class="w g2"/><text y="5.2">No meaningful emp NE<tspan x="0" dy="6">0.59</tspan><tspan x="0" dy="6">1%</tspan></text><text class="s" y="25.8">total.cte.courses.taken &lt; 5</text></g>
<g id="n125" transform="translate(993,382)"><rect class="w g5"/><text y="5.2">No meaningful emp NE<tspan x="0" dy="6">0.81</tspan><tspan x="0" dy="6">6%</tspan></text><text class="s" y="25.8">MCA.R &lt; 3</text></g>
<g id="n126" transform="translate(1047,382)"><rect class="w g6"/><text y="5.2">No meaningful emp NE<tspan x="0" dy="6">0.85</tspan><tspan x="0" dy="6">6%</tspan></text><text class="s" y="25.8">Dem_Desc = Urban/town/rural mix</text></g>
<g id="n127" transform="translate(1097,382)"><rect class="w g7"/><text y="5.2">No meaningful emp NE<tspan x="0" dy="6">0.88</tspan><tspan x="0" dy="6">3%</tspan></text><text class="s" y="25.8">ps.grad.institutionSector = 4</text></g>
<g id="n128" transform="translate(1133,382)"><rect class="w g7"/><text y="5.2">No meaningful emp NE<tspan x="0" dy="6">0.88</tspan><tspan x="0" dy="6">1%</tspan></text><text class="s" y="25.8">ACTCompositeScore &lt; 25</text></g>
<g id="n129" transform="translate(1168,382)"><rect class="w g5"/><text y="5.2">No meaningful emp NE<tspan x="0" dy="6">0.80</tspan><tspan x="0" dy="6">2%</tspan></text></g>
<g id="n130" transform="translate(1208,382)"><rect class="w g6"/><text y="5.2">No meaningful emp NE<tspan x="0" dy="6">0.84</tspan><tspan x="0" dy="6">1%</tspan></text><text class="s" y="25.8">MCA.M &lt; 3</text></g>
<g id="n131" transform="translate(205,417)"><rect class="m b4"/><text y="5.2">Meaningful emp NE<tspan x="0" dy="6">0.38</tspan><tspan x="0" dy="6">1%</tspan></text><text class="s" y="25.8">MCA.S &gt;= 4</text></g>
<g id="n132" transform="translate(258,417)"><rect class="m b2"/><text y="5.2">Meaningful emp NE<tspan x="0" dy="6">0.46</tspan><tspan x="0" dy="6">0%</tspan></text><text class="s" y="25.8">ACTCompositeScore &lt; 20</text></g>
<g id="n133" transform="translate(283,417)"><rect class="w g1"/><text y="5.2">No meaningful emp NE<tspan x="0" dy="6">0.51</tspan><tspan x="0" dy="6">0%</tspan></text></g>
<g id="n134" transform="translate(350,417)"><rect class="w g2"/><text y="5.2">No meaningful emp NE<tspan x="0" dy="6">0.58</tspan><tspan x="0" dy="6">0%</tspan></text><text class="s" y="25.8">ps.grad.institutionSector = 10,4</text></g>
<g id="n135" transform="translate(460,417)"><rect class="w g2"/><text y="5.2">No meaningful emp NE<tspan x="0" dy="6">0.59</tspan><tspan x="0" dy="6">0%</tspan></text><text class="s" y="25.8">MCA.R &lt; 4</text></g>
<g id="n136" transform="translate(532,417)"><rect class="m b4"/><text y="5.2">Meaningful emp NE<tspan x="0" dy="6">0.37</tspan><tspan x="0" dy="6">0%</tspan></text><text class="s" y="25.8">took.ACT = No</text></g>
<g id="n137" transform="translate(565,417)"><rect class="w g1"/><text y="5.2">No meaningful emp NE<tspan x="0" dy="6">0.57</tspan><tspan x="0" dy="6">0%</tspan></text><text class="s" y="25.8">total.cte.courses.taken &lt; 8</text></g>
<g id="n138" transform="translate(749,417)"><rect class="w g4"/><text y="5.2">No meaningful emp NE<tspan x="0" dy="6">0.77</tspan><tspan x="0" dy="6">12%</tspan></text><text class="s" y="25.8">cte.achievement = CTE Concentrator or Completer,No CTE</text></g>
<g id="n139" transform="translate(849,417)"><rect class="w g5"/><text y="5.2">No meaningful emp NE<tspan x="0" dy="6">0.81</tspan><tspan x="0" dy="6">3%</tspan></text><text class="s" y="25.8">economic.status = 1</text></g>
<g id="n140" transform="translate(895,417)"><rect class="w g5"/><text y="5.2">No meaningful emp NE<tspan x="0" dy="6">0.81</tspan><tspan x="0" dy="6">2%</tspan></text></g>
<g id="n141" transform="translate(933,417)"><rect class="w g1"/><text y="5.2">No meaningful emp NE<tspan x="0" dy="6">0.54</tspan><tspan x="0" dy="6">0%</tspan></text><text class="s" y="25.8">psco.participant = 1</text></g>
<g id="n142" transform="translate(1012,417)"><rect class="w g5"/><text y="5.2">No meaningful emp NE<tspan x="0" dy="6">0.82</tspan><tspan x="0" dy="6">5%</tspan></text><text class="s" y="25.8">ACTCompositeScore &gt;= 26</text></g>
<g id="n143" transform="translate(1034,417)"><rect class="w g6"/><text y="5.2">No meaningful emp NE<tspan x="0" dy="6">0.83</tspan><tspan x="0" dy="6">4%</tspan></text></g>
<g id="n144" transform="translate(1112,417)"><rect class="w g6"/><text y="5.2">No meaningful emp NE<tspan x="0" dy="6">0.85</tspan><tspan x="0" dy="6">3%</tspan></text><text class="s" y="25.8">Dem_Desc = Urban/town/rural mix</text></g>
<g id="n145" transform="translate(1138,417)"><rect class="w g4"/><text y="5.2">No meaningful emp NE<tspan x="0" dy="6">0.74</tspan><tspan x="0" dy="6">0%</tspan></text></g>
<g id="n146" transform="translate(1168,417)"><rect class="w g4"/><text y="5.2">No meaningful emp NE<tspan x="0" dy="6">0.76</tspan><tspan x="0" dy="6">2%</tspan></text></g>
<g id="n147" transform="translate(1205,417)"><rect class="w g3"/><text y="5.2">No meaningful emp NE<tspan x="0" dy="6">0.71</tspan><tspan x="0" dy="6">0%</tspan></text><text class="s" y="25.8">Dem_Desc = Entirely rural,Urban/town/rural mix</text></g>
<g id="n148" transform="translate(190,452)"><rect class="m b6"/><text y="5.2">Meaningful emp NE<tspan x="0" dy="6">0.24</tspan><tspan x="0" dy="6">0%</tspan></text><text class="s" y="25.8">cte.achievement = CTE Concentrator or Completer</text></g>
<g id="n149" transform="translate(207,452)"><rect class="m b3"/><text y="5.2">Meaningful emp NE<tspan x="0" dy="6">0.41</tspan><tspan x="0" dy="6">0%</tspan></text></g>
<g id="n150" transform="translate(232,452)"><rect class="m b1"/><text y="5.2">Meaningful emp NE<tspan x="0" dy="6">0.48</tspan><tspan x="0" dy="6">0%</tspan></text></g>
<g id="n151" transform="translate(275,452)"><rect class="m b3"/><text y="5.2">Meaningful emp NE<tspan x="0" dy="6">0.41</tspan><tspan x="0" dy="6">0%</tspan></text><text class="s" y="25.8">ACTCompositeScore &lt; 22</text></g>
<g id="n152" transform="translate(348,452)"><rect class="m b1"/><text y="5.2">Meaningful emp NE<tspan x="0" dy="6">0.48</tspan><tspan x="0" dy="6">0%</tspan></text><text class="s" y="25.8">economic.status = 0</text></g>
<g id="n153" transform="translate(720,452)"><rect class="w g4"/><text y="5.2">No meaningful emp NE<tspan x="0" dy="6">0.75</tspan><tspan x="0" dy="6">8%</tspan></text><text class="s" y="25.8">ps.grad = No</text></g>
<g id="n154" transform="translate(777,452)"><rect class="w g5"/><text y="5.2">No meaningful emp NE<tspan x="0" dy="6">0.80</tspan><tspan x="0" dy="6">4%</tspan></text><text class="s" y="25.8">total.cte.courses.taken &lt; 3</text></g>
<g id="n155" transform="translate(820,452)"><rect class="w g4"/><text y="5.2">No meaningful emp NE<tspan x="0" dy="6">0.77</tspan><tspan x="0" dy="6">1%</tspan></text></g>
<g id="n156" transform="translate(878,452)"><rect class="w g6"/><text y="5.2">No meaningful emp NE<tspan x="0" dy="6">0.84</tspan><tspan x="0" dy="6">2%</tspan></text><text class="s" y="25.8">MCA.R &lt; 4</text></g>
<g id="n157" transform="translate(903,452)"><rect class="w g4"/><text y="5.2">No meaningful emp NE<tspan x="0" dy="6">0.73</tspan><tspan x="0" dy="6">1%</tspan></text></g>
<g id="n158" transform="translate(915,452)"><rect class="w g6"/><text y="5.2">No meaningful emp NE<tspan x="0" dy="6">0.83</tspan><tspan x="0" dy="6">3%</tspan></text><text class="s" y="25.8">range.school = Range school</text></g>
<g id="n159" transform="translate(1004,452)"><rect class="w g5"/><text y="5.2">No meaningful emp NE<tspan x="0" dy="6">0.81</tspan><tspan x="0" dy="6">5%</tspan></text><text class="s" y="25.8">grad.year.covid = Pre-covid grad</text></g>
<g id="n160" transform="translate(1039,452)"><rect class="w g6"/><text y="5.2">No meaningful emp NE<tspan x="0" dy="6">0.84</tspan><tspan x="0" dy="6">4%</tspan></text><text class="s" y="25.8">MCA.M &gt;= 3</text></g>
<g id="n161" transform="translate(1106,452)"><rect class="w g7"/><text y="5.2">No meaningful emp NE<tspan x="0" dy="6">0.88</tspan><tspan x="0" dy="6">2%</tspan></text><text class="s" y="25.8">ACTCompositeScore &lt; 29</text></g>
<g id="n162" transform="translate(1164,452)"><rect class="w g4"/><text y="5.2">No meaningful emp NE<tspan x="0" dy="6">0.78</tspan><tspan x="0" dy="6">2%</tspan></text></g>
<g id="n163" transform="translate(1201,452)"><rect class="w g2"/><text y="5.2">No meaningful emp NE<tspan x="0" dy="6">0.61</tspan><tspan x="0" dy="6">0%</tspan></text><text class="s" y="25.8">RaceEthnicity = AI,Black,Unknown</text></g>
<g id="n164" transform="translate(220,486)"><rect class="m b3"/><text y="5.2">Meaningful emp NE<tspan x="0" dy="6">0.40</tspan><tspan x="0" dy="6">1%</tspan></text><text class="s" y="25.8">ACTCompositeScore &gt;= 19</text></g>
<g id="n165" transform="translate(280,486)"><rect class="m b1"/><text y="5.2">Meaningful emp NE<tspan x="0" dy="6">0.50</tspan><tspan x="0" dy="6">0%</tspan></text><text class="s" y="25.8">Dem_Desc = Urban/town/rural mix</text></g>
<g id="n166" transform="translate(680,486)"><rect class="w g4"/><text y="5.2">No meaningful emp NE<tspan x="0" dy="6">0.74</tspan><tspan x="0" dy="6">7%</tspan></text><text class="s" y="25.8">MCA.M &lt; 2</text></g>
<g id="n167" transform="translate(767,486)"><rect class="w g2"/><text y="5.2">No meaningful emp NE<tspan x="0" dy="6">0.62</tspan><tspan x="0" dy="6">0%</tspan></text></g>
<g id="n168" transform="translate(787,486)"><rect class="w g5"/><text y="5.2">No meaningful emp NE<tspan x="0" dy="6">0.81</tspan><tspan x="0" dy="6">4%</tspan></text></g>
<g id="n169" transform="translate(805,486)"><rect class="w g2"/><text y="5.2">No meaningful emp NE<tspan x="0" dy="6">0.63</tspan><tspan x="0" dy="6">0%</tspan></text></g>
<g id="n170" transform="translate(823,486)"><rect class="w g5"/><text y="5.2">No meaningful emp NE<tspan x="0" dy="6">0.79</tspan><tspan x="0" dy="6">1%</tspan></text><text class="s" y="25.8">RaceEthnicity = AI,Hispanic,White</text></g>
<g id="n171" transform="translate(870,486)"><rect class="w g6"/><text y="5.2">No meaningful emp NE<tspan x="0" dy="6">0.83</tspan><tspan x="0" dy="6">2%</tspan></text></g>
<g id="n172" transform="translate(903,486)"><rect class="w g2"/><text y="5.2">No meaningful emp NE<tspan x="0" dy="6">0.61</tspan><tspan x="0" dy="6">0%</tspan></text><text class="s" y="25.8">total.cte.courses.taken &gt;= 5</text></g>
<g id="n173" transform="translate(989,486)"><rect class="w g2"/><text y="5.2">No meaningful emp NE<tspan x="0" dy="6">0.61</tspan><tspan x="0" dy="6">4%</tspan></text><text class="s" y="25.8">total.cte.courses.taken &lt; 4</text></g>
<g id="n174" transform="translate(1040,486)"><rect class="w g2"/><text y="5.2">No meaningful emp NE<tspan x="0" dy="6">0.64</tspan><tspan x="0" dy="6">3%</tspan></text><text class="s" y="25.8">MCA.M &lt; 2</text></g>
<g id="n175" transform="translate(1076,486)"><rect class="w g2"/><text y="5.2">No meaningful emp NE<tspan x="0" dy="6">0.64</tspan><tspan x="0" dy="6">2%</tspan></text><text class="s" y="25.8">ps.grad = No</text></g>
<g id="n176" transform="translate(207,521)"><rect class="m b3"/><text y="5.2">Meaningful emp NE<tspan x="0" dy="6">0.41</tspan><tspan x="0" dy="6">0%</tspan></text></g>
<g id="n177" transform="translate(228,521)"><rect class="m b1"/><text y="5.2">Meaningful emp NE<tspan x="0" dy="6">0.47</tspan><tspan x="0" dy="6">0%</tspan></text><text class="s" y="25.8">took.ACT = No</text></g>
<g id="n178" transform="translate(660,521)"><rect class="w g3"/><text y="5.2">No meaningful emp NE<tspan x="0" dy="6">0.69</tspan><tspan x="0" dy="6">2%</tspan></text><text class="s" y="25.8">total.cte.courses.taken &gt;= 5</text></g>
<g id="n179" transform="translate(700,521)"><rect class="w g4"/><text y="5.2">No meaningful emp NE<tspan x="0" dy="6">0.76</tspan><tspan x="0" dy="6">6%</tspan></text><text class="s" y="25.8">ACTCompositeScore &gt;= 23</text></g>
<g id="n180" transform="translate(780,521)"><rect class="w g4"/><text y="5.2">No meaningful emp NE<tspan x="0" dy="6">0.77</tspan><tspan x="0" dy="6">1%</tspan></text><text class="s" y="25.8">cte.achievement = CTE Concentrator or Completer</text></g>
<g id="n181" transform="translate(803,521)"><rect class="w g1"/><text y="5.2">No meaningful emp NE<tspan x="0" dy="6">0.57</tspan><tspan x="0" dy="6">0%</tspan></text></g>
<g id="n182" transform="translate(847,521)"><rect class="w g5"/><text y="5.2">No meaningful emp NE<tspan x="0" dy="6">0.82</tspan><tspan x="0" dy="6">2%</tspan></text></g>
<g id="n183" transform="translate(895,521)"><rect class="w g1"/><text y="5.2">No meaningful emp NE<tspan x="0" dy="6">0.54</tspan><tspan x="0" dy="6">0%</tspan></text><text class="s" y="25.8">MCA.R &lt; 4</text></g>
<g id="n184" transform="translate(993,521)"><rect class="w g4"/><text y="5.2">No meaningful emp NE<tspan x="0" dy="6">0.76</tspan><tspan x="0" dy="6">2%</tspan></text><text class="s" y="25.8">cte.achievement = CTE Participant</text></g>
<g id="n185" transform="translate(1015,521)"><rect class="w g2"/><text y="5.2">No meaningful emp NE<tspan x="0" dy="6">0.61</tspan><tspan x="0" dy="6">0%</tspan></text></g>
<g id="n186" transform="translate(1045,521)"><rect class="w g6"/><text y="5.2">No meaningful emp NE<tspan x="0" dy="6">0.83</tspan><tspan x="0" dy="6">1%</tspan></text></g>
<g id="n187" transform="translate(1080,521)"><rect class="w g2"/><text y="5.2">No meaningful emp NE<tspan x="0" dy="6">0.63</tspan><tspan x="0" dy="6">2%</tspan></text><text class="s" y="25.8">total.cte.courses.taken &lt; 1</text></g>
<g id="n188" transform="translate(205,555)"><rect class="m b4"/><text y="5.2">Meaningful emp NE<tspan x="0" dy="6">0.38</tspan><tspan x="0" dy="6">0%</tspan></text></g>
<g id="n189" transform="translate(233,555)"><rect class="w g1"/><text y="5.2">No meaningful emp NE<tspan x="0" dy="6">0.54</tspan><tspan x="0" dy="6">0%</tspan></text><text class="s" y="25.8">MCA.S &lt; 8</text></g>
<g id="n190" transform="translate(646,555)"><rect class="w g3"/><text y="5.2">No meaningful emp NE<tspan x="0" dy="6">0.66</tspan><tspan x="0" dy="6">1%</tspan></text><text class="s" y="25.8">psco.participant = 1</text></g>
<g id="n191" transform="translate(718,555)"><rect class="w g4"/><text y="5.2">No meaningful emp NE<tspan x="0" dy="6">0.76</tspan><tspan x="0" dy="6">5%</tspan></text><text class="s" y="25.8">ACTCompositeScore &lt; 17</text></g>
<g id="n192" transform="translate(783,555)"><rect class="w g4"/><text y="5.2">No meaningful emp NE<tspan x="0" dy="6">0.78</tspan><tspan x="0" dy="6">1%</tspan></text><text class="s" y="25.8">total.cte.courses.taken &gt;= 5</text></g>
<g id="n193" transform="translate(837,555)"><rect class="w g4"/><text y="5.2">No meaningful emp NE<tspan x="0" dy="6">0.74</tspan><tspan x="0" dy="6">0%</tspan></text></g>
<g id="n194" transform="translate(873,555)"><rect class="w g6"/><text y="5.2">No meaningful emp NE<tspan x="0" dy="6">0.84</tspan><tspan x="0" dy="6">1%</tspan></text><text class="s" y="25.8">ACTCompositeScore &gt;= 16</text></g>
<g id="n195" transform="translate(993,555)"><rect class="w g8"/><text y="5.2">No meaningful emp NE<tspan x="0" dy="6">0.90</tspan><tspan x="0" dy="6">3%</tspan></text><text class="s" y="25.8">psco.participant = 1</text></g>
<g id="n196" transform="translate(1044,555)"><rect class="w g6"/><text y="5.2">No meaningful emp NE<tspan x="0" dy="6">0.86</tspan><tspan x="0" dy="6">3%</tspan></text><text class="s" y="25.8">range.school = Non-range school</text></g>
<g id="n197" transform="translate(1080,555)"><rect class="w g9"/><text y="5.2">No meaningful emp NE<tspan x="0" dy="6">0.96</tspan><tspan x="0" dy="6">1%</tspan></text></g>
<g id="n198" transform="translate(234,590)"><rect class="w g2"/><text y="5.2">No meaningful emp NE<tspan x="0" dy="6">0.64</tspan><tspan x="0" dy="6">0%</tspan></text><text class="s" y="25.8">took.ACT = No</text></g>
<g id="n199" transform="translate(628,590)"><rect class="m b1"/><text y="5.2">Meaningful emp NE<tspan x="0" dy="6">0.50</tspan><tspan x="0" dy="6">0%</tspan></text><text class="s" y="25.8">total.cte.courses.taken &lt; 6</text></g>
<g id="n200" transform="translate(658,590)"><rect class="w g3"/><text y="5.2">No meaningful emp NE<tspan x="0" dy="6">0.69</tspan><tspan x="0" dy="6">1%</tspan></text></g>
<g id="n201" transform="translate(703,590)"><rect class="w g3"/><text y="5.2">No meaningful emp NE<tspan x="0" dy="6">0.72</tspan><tspan x="0" dy="6">1%</tspan></text><text class="s" y="25.8">psco.participant = 1</text></g>
<g id="n202" transform="translate(735,590)"><rect class="w g4"/><text y="5.2">No meaningful emp NE<tspan x="0" dy="6">0.77</tspan><tspan x="0" dy="6">5%</tspan></text><text class="s" y="25.8">took.ACT = No</text></g>
<g id="n203" transform="translate(780,590)"><rect class="w g3"/><text y="5.2">No meaningful emp NE<tspan x="0" dy="6">0.66</tspan><tspan x="0" dy="6">0%</tspan></text><text class="s" y="25.8">ACTCompositeScore &gt;= 23</text></g>
<g id="n204" transform="translate(835,590)"><rect class="w g3"/><text y="5.2">No meaningful emp NE<tspan x="0" dy="6">0.66</tspan><tspan x="0" dy="6">0%</tspan></text></g>
<g id="n205" transform="translate(868,590)"><rect class="w g5"/><text y="5.2">No meaningful emp NE<tspan x="0" dy="6">0.82</tspan><tspan x="0" dy="6">1%</tspan></text><text class="s" y="25.8">cte.achievement = CTE Concentrator or Completer</text></g>
<g id="n206" transform="translate(994,590)"><rect class="w g6"/><text y="5.2">No meaningful emp NE<tspan x="0" dy="6">0.83</tspan><tspan x="0" dy="6">3%</tspan></text><text class="s" y="25.8">Dem_Desc = Urban/town/rural mix</text></g>
<g id="n207" transform="translate(1030,590)"><rect class="w g7"/><text y="5.2">No meaningful emp NE<tspan x="0" dy="6">0.88</tspan><tspan x="0" dy="6">1%</tspan></text></g>
<g id="n208" transform="translate(1085,590)"><rect class="w g5"/><text y="5.2">No meaningful emp NE<tspan x="0" dy="6">0.82</tspan><tspan x="0" dy="6">1%</tspan></text><text class="s" y="25.8">cte.achievement = CTE Participant</text></g>
<g id="n209" transform="translate(648,625)"><rect class="w g2"/><text y="5.2">No meaningful emp NE<tspan x="0" dy="6">0.61</tspan><tspan x="0" dy="6">0%</tspan></text><text class="s" y="25.8">MCA.R &lt; 4</text></g>
<g id="n210" transform="translate(665,625)"><rect class="w g3"/><text y="5.2">No meaningful emp NE<tspan x="0" dy="6">0.72</tspan><tspan x="0" dy="6">1%</tspan></text></g>
<g id="n211" transform="translate(697,625)"><rect class="w g3"/><text y="5.2">No meaningful emp NE<tspan x="0" dy="6">0.66</tspan><tspan x="0" dy="6">0%</tspan></text><text class="s" y="25.8">psco.participant = 1</text></g>
<g id="n212" transform="translate(726,625)"><rect class="w g4"/><text y="5.2">No meaningful emp NE<tspan x="0" dy="6">0.75</tspan><tspan x="0" dy="6">3%</tspan></text></g>
<g id="n213" transform="translate(749,625)"><rect class="w g5"/><text y="5.2">No meaningful emp NE<tspan x="0" dy="6">0.82</tspan><tspan x="0" dy="6">1%</tspan></text><text class="s" y="25.8">economic.status = 1</text></g>
<g id="n214" transform="translate(862,625)"><rect class="w g5"/><text y="5.2">No meaningful emp NE<tspan x="0" dy="6">0.80</tspan><tspan x="0" dy="6">1%</tspan></text><text class="s" y="25.8">ps.grad.location = In MN,Never attended ps</text></g>
<g id="n215" transform="translate(995,625)"><rect class="w g4"/><text y="5.2">No meaningful emp NE<tspan x="0" dy="6">0.78</tspan><tspan x="0" dy="6">0%</tspan></text><text class="s" y="25.8">MCA.S &lt; 3</text></g>
<g id="n216" transform="translate(1040,625)"><rect class="w g2"/><text y="5.2">No meaningful emp NE<tspan x="0" dy="6">0.64</tspan><tspan x="0" dy="6">0%</tspan></text><text class="s" y="25.8">MCA.R &lt; 2</text></g>
<g id="n217" transform="translate(1080,625)"><rect class="w g4"/><text y="5.2">No meaningful emp NE<tspan x="0" dy="6">0.79</tspan><tspan x="0" dy="6">0%</tspan></text><text class="s" y="25.8">grad.year.covid = Pre-covid grad</text></g>
<g id="n218" transform="translate(642,659)"><rect class="w g1"/><text y="5.2">No meaningful emp NE<tspan x="0" dy="6">0.56</tspan><tspan x="0" dy="6">0%</tspan></text><text class="s" y="25.8">economic.status = 1</text></g>
<g id="n219" transform="translate(660,659)"><rect class="w g2"/><text y="5.2">No meaningful emp NE<tspan x="0" dy="6">0.62</tspan><tspan x="0" dy="6">0%</tspan></text></g>
<g id="n220" transform="translate(688,659)"><rect class="w g3"/><text y="5.2">No meaningful emp NE<tspan x="0" dy="6">0.68</tspan><tspan x="0" dy="6">0%</tspan></text><text class="s" y="25.8">ACTCompositeScore &lt; 20</text></g>
<g id="n221" transform="translate(718,659)"><rect class="w g3"/><text y="5.2">No meaningful emp NE<tspan x="0" dy="6">0.65</tspan><tspan x="0" dy="6">1%</tspan></text></g>
<g id="n222" transform="translate(740,659)"><rect class="w g4"/><text y="5.2">No meaningful emp NE<tspan x="0" dy="6">0.74</tspan><tspan x="0" dy="6">1%</tspan></text><text class="s" y="25.8">ACTCompositeScore &gt;= 22</text></g>
<g id="n223" transform="translate(855,659)"><rect class="w g4"/><text y="5.2">No meaningful emp NE<tspan x="0" dy="6">0.79</tspan><tspan x="0" dy="6">1%</tspan></text><text class="s" y="25.8">MCA.S &lt; 3</text></g>
<g id="n224" transform="translate(995,659)"><rect class="w g3"/><text y="5.2">No meaningful emp NE<tspan x="0" dy="6">0.67</tspan><tspan x="0" dy="6">0%</tspan></text><text class="s" y="25.8">ACTCompositeScore &lt; 17</text></g>
<g id="n225" transform="translate(656,694)"><rect class="m b1"/><text y="5.2">Meaningful emp NE<tspan x="0" dy="6">0.50</tspan><tspan x="0" dy="6">0%</tspan></text><text class="s" y="25.8">economic.status = 0</text></g>
<g id="n226" transform="translate(694,694)"><rect class="w g3"/><text y="5.2">No meaningful emp NE<tspan x="0" dy="6">0.66</tspan><tspan x="0" dy="6">0%</tspan></text></g>
<g id="n227" transform="translate(723,694)"><rect class="w g3"/><text y="5.2">No meaningful emp NE<tspan x="0" dy="6">0.70</tspan><tspan x="0" dy="6">0%</tspan></text></g>
<g id="n228" transform="translate(746,694)"><rect class="w g4"/><text y="5.2">No meaningful emp NE<tspan x="0" dy="6">0.79</tspan><tspan x="0" dy="6">0%</tspan></text><text class="s" y="25.8">total.cte.courses.taken &lt; 4</text></g>
<g id="n229" transform="translate(858,694)"><rect class="w g5"/><text y="5.2">No meaningful emp NE<tspan x="0" dy="6">0.81</tspan><tspan x="0" dy="6">1%</tspan></text><text class="s" y="25.8">cte.achievement = CTE Concentrator or Completer</text></g>
<g id="n230" transform="translate(663,728)"><rect class="w g1"/><text y="5.2">No meaningful emp NE<tspan x="0" dy="6">0.55</tspan><tspan x="0" dy="6">0%</tspan></text></g>
<g id="n231" transform="translate(680,728)"><rect class="w g1"/><text y="5.2">No meaningful emp NE<tspan x="0" dy="6">0.56</tspan><tspan x="0" dy="6">0%</tspan></text><text class="s" y="25.8">total.cte.courses.taken &lt; 3</text></g>
<g id="n232" transform="translate(693,728)"><rect class="w g3"/><text y="5.2">No meaningful emp NE<tspan x="0" dy="6">0.70</tspan><tspan x="0" dy="6">0%</tspan></text></g>
<g id="n233" transform="translate(743,728)"><rect class="w g3"/><text y="5.2">No meaningful emp NE<tspan x="0" dy="6">0.68</tspan><tspan x="0" dy="6">0%</tspan></text><text class="s" y="25.8">ACTCompositeScore &lt; 20</text></g>
<g id="n234" transform="translate(857,728)"><rect class="w g4"/><text y="5.2">No meaningful emp NE<tspan x="0" dy="6">0.74</tspan><tspan x="0" dy="6">0%</tspan></text><text class="s" y="25.8">MCA.M &gt;= 4</text></g>
<g id="n235" transform="translate(740,763)"><rect class="w g1"/><text y="5.2">No meaningful emp NE<tspan x="0" dy="6">0.57</tspan><tspan x="0" dy="6">0%</tspan></text><text class="s" y="25.8">cte.achievement = CTE Concentrator or Completer</text></g>
<g id="n236" transform="translate(855,763)"><rect class="w g2"/><text y="5.2">No meaningful emp NE<tspan x="0" dy="6">0.61</tspan><tspan x="0" dy="6">0%</tspan></text><text class="s" y="25.8">total.cte.courses.taken &lt; 4</text></g>
<g id="L0" transform="translate(113,870)"><rect class="m b6"/><text y="5.2">Meaningful emp NE<tspan x="0" dy="6">0.20</tspan><tspan x="0" dy="6">1%</tspan></text></g>
<g id="L1" transform="translate(120.6,870)"><rect class="m b5"/><text y="5.2">Meaningful emp NE<tspan x="0" dy="6">0.31</tspan><tspan x="0" dy="6">0%</tspan></text></g>
<g id="L2" transform="translate(128.2,870)"><rect class="w g2"/><text y="5.2">No meaningful emp NE<tspan x="0" dy="6">0.60</tspan><tspan x="0" dy="6">0%</tspan></text></g>
<g id="L3" transform="translate(135.8,870)"><rect class="m b4"/><text y="5.2">Meaningful emp NE<tspan x="0" dy="6">0.38</tspan><tspan x="0" dy="6">0%</tspan></text></g>
<g id="L4" transform="translate(143.4,870)"><rect class="m b6"/><text y="5.2">Meaningful emp NE<tspan x="0" dy="6">0.22</tspan><tspan x="0" dy="6">0%</tspan></text></g>
<g id="L5" transform="translate(151,870)"><rect class="m b3"/><text y="5.2">Meaningful emp NE<tspan x="0" dy="6">0.41</tspan><tspan x="0" dy="6">0%</tspan></text></g>
<g id="L6" transform="translate(158.6,870)"><rect class="w g1"/><text y="5.2">No meaningful emp NE<tspan x="0" dy="6">0.56</tspan><tspan x="0" dy="6">0%</tspan></text></g>
<g id="L7" transform="translate(166.2,870)"><rect class="m b5"/><text y="5.2">Meaningful emp NE<tspan x="0" dy="6">0.33</tspan><tspan x="0" dy="6">0%</tspan></text></g>
<g id="L8" transform="translate(173.8,870)"><rect class="m b2"/><text y="5.2">Meaningful emp NE<tspan x="0" dy="6">0.45</tspan><tspan x="0" dy="6">0%</tspan></text></g>
<g id="L9" transform="translate(181.4,870)"><rect class="w g2"/><text y="5.2">No meaningful emp NE<tspan x="0" dy="6">0.62</tspan><tspan x="0" dy="6">0%</tspan></text></g>
<g id="L10" transform="translate(189,870)"><rect class="m b4"/><text y="5.2">Meaningful emp NE<tspan x="0" dy="6">0.36</tspan><tspan x="0" dy="6">0%</tspan></text></g>
<g id="L11" transform="translate(196.6,870)"><rect class="m b6"/><text y="5.2">Meaningful emp NE<tspan x="0" dy="6">0.25</tspan><tspan x="0" dy="6">0%</tspan></text></g>
<g id="L12" transform="translate(204.2,870)"><rect class="w g1"/><text y="5.2">No meaningful emp NE<tspan x="0" dy="6">0.55</tspan><tspan x="0" dy="6">0%</tspan></text></g>
<g id="L13" transform="translate(211.8,870)"><rect class="m b3"/><text y="5.2">Meaningful emp NE<tspan x="0" dy="6">0.40</tspan><tspan x="0" dy="6">0%</tspan></text></g>
<g id="L14" transform="translate(219.4,870)"><rect class="m b2"/><text y="5.2">Meaningful emp NE<tspan x="0" dy="6">0.44</tspan><tspan x="0" dy="6">0%</tspan></text></g>
<g id="L15" transform="translate(227,870)"><rect class="w g2"/><text y="5.2">No meaningful emp NE<tspan x="0" dy="6">0.61</tspan><tspan x="0" dy="6">0%</tspan></text></g>
<g id="L16" transform="translate(234.6,870)"><rect class="m b5"/><text y="5.2">Meaningful emp NE<tspan x="0" dy="6">0.32</tspan><tspan x="0" dy="6">0%</tspan></text></g>
<g id="L17" transform="translate(242.2,870)"><rect class="w g1"/><text y="5.2">No meaningful emp NE<tspan x="0" dy="6">0.57</tspan><tspan x="0" dy="6">0%</tspan></text></g>
<g id="L18" transform="translate(249.8,870)"><rect class="m b3"/><text y="5.2">Meaningful emp NE<tspan x="0" dy="6">0.42</tspan><tspan x="0" dy="6">0%</tspan></text></g>
<g id="L19" transform="translate(257.4,870)"><rect class="m b1"/><text y="5.2">Meaningful emp NE<tspan x="0" dy="6">0.48</tspan><tspan x="0" dy="6">0%</tspan></text></g>
<g id="L20" transform="translate(265,870)"><rect class="w g2"/><text y="5.2">No meaningful emp NE<tspan x="0" dy="6">0.63</tspan><tspan x="0" dy="6">0%</tspan></text></g>
<g id="L21" transform="translate(272.6,870)"><rect class="m b4"/><text y="5.2">Meaningful emp NE<tspan x="0" dy="6">0.37</tspan><tspan x="0" dy="6">1%</tspan></text></g>
<g id="L22" transform="translate(280.2,870)"><rect class="w g1"/><text y="5.2">No meaningful emp NE<tspan x="0" dy="6">0.54</tspan><tspan x="0" dy="6">0%</tspan></text></g>
<g id="L23" transform="translate(287.8,870)"><rect class="m b2"/><text y="5.2">Meaningful emp NE<tspan x="0" dy="6">0.46</tspan><tspan x="0" dy="6">0%</tspan></text></g>
<g id="L24" transform="translate(295.4,870)"><rect class="m b3"/><text y="5.2">Meaningful emp NE<tspan x="0" dy="6">0.41</tspan><tspan x="0" dy="6">0%</tspan></text></g>
<g id="L25" transform="translate(303,870)"><rect class="w g2"/><text y="5.2">No meaningful emp NE<tspan x="0" dy="6">0.60</tspan><tspan x="0" dy="6">0%</tspan></text></g>
<g id="L26" transform="translate(310.6,870)"><rect class="m b5"/><text y="5.2">Meaningful emp NE<tspan x="0" dy="6">0.30</tspan><tspan x="0" dy="6">0%</tspan></text></g>
<g id="L27" transform="translate(318.2,870)"><rect class="w g1"/><text y="5.2">No meaningful emp NE<tspan x="0" dy="6">0.56</tspan><tspan x="0" dy="6">0%</tspan></text></g>
<g id="L28" transform="translate(325.8,870)"><rect class="m b2"/><text y="5.2">Meaningful emp NE<tspan x="0" dy="6">0.43</tspan><tspan x="0" dy="6">0%</tspan></text></g>
<g id="L29" transform="translate(333.4,870)"><rect class="m b4"/><text y="5.2">Meaningful emp NE<tspan x="0" dy="6">0.39</tspan><tspan x="0" dy="6">0%</tspan></text></g>
<g id="L30" transform="translate(341,870)"><rect class="w g2"/><text y="5.2">No meaningful emp NE<tspan x="0" dy="6">0.64</tspan><tspan x="0" dy="6">0%</tspan></text></g>
<g id="L31" transform="translate(348.6,870)"><rect class="m b1"/><text y="5.2">Meaningful emp NE<tspan x="0" dy="6">0.49</tspan><tspan x="0" dy="6">0%</tspan></text></g>
<g id="L32" transform="translate(356.2,870)"><rect class="w g3"/><text y="5.2">No meaningful emp NE<tspan x="0" dy="6">0.67</tspan><tspan x="0" dy="6">0%</tspan></text></g>
<g id="L33" transform="translate(363.8,870)"><rect class="m b3"/><text y="5.2">Meaningful emp NE<tspan x="0" dy="6">0.42</tspan><tspan x="0" dy="6">0%</tspan></text></g>
<g id="L34" transform="translate(371.4,870)"><rect class="w g1"/><text y="5.2">No meaningful emp NE<tspan x="0" dy="6">0.55</tspan><tspan x="0" dy="6">0%</tspan></text></g>
<g id="L35" transform="translate(379,870)"><rect class="m b2"/><text y="5.2">Meaningful emp NE<tspan x="0" dy="6">0.45</tspan><tspan x="0" dy="6">0%</tspan></text></g>
<g id="L36" transform="translate(386.6,870)"><rect class="m b4"/><text y="5.2">Meaningful emp NE<tspan x="0" dy="6">0.38</tspan><tspan x="0" dy="6">0%</tspan></text></g>
<g id="L37" transform="translate(394.2,870)"><rect class="w g2"/><text y="5.2">No meaningful emp NE<tspan x="0" dy="6">0.59</tspan><tspan x="0" dy="6">0%</tspan></text></g>
<g id="L38" transform="translate(401.8,870)"><rect class="m b3"/><text y="5.2">Meaningful emp NE<tspan x="0" dy="6">0.40</tspan><tspan x="0" dy="6">0%</tspan></text></g>
<g id="L39" transform="translate(409.4,870)"><rect class="w g1"/><text y="5.2">No meaningful emp NE<tspan x="0" dy="6">0.57</tspan><tspan x="0" dy="6">0%</tspan></text></g>
<g id="L40" transform="translate(417,870)"><rect class="m b2"/><text y="5.2">Meaningful emp NE<tspan x="0" dy="6">0.44</tspan><tspan x="0" dy="6">0%</tspan></text></g>
<g id="L41" transform="translate(424.6,870)"><rect class="w g2"/><text y="5.2">No meaningful emp NE<tspan x="0" dy="6">0.62</tspan><tspan x="0" dy="6">0%</tspan></text></g>
<g id="L42" transform="translate(432.2,870)"><rect class="w g3"/><text y="5.2">No meaningful emp NE<tspan x="0" dy="6">0.68</tspan><tspan x="0" dy="6">0%</tspan></text></g>
<g id="L43" transform="translate(439.8,870)"><rect class="m b2"/><text y="5.2">Meaningful emp NE<tspan x="0" dy="6">0.46</tspan><tspan x="0" dy="6">0%</tspan></text></g>
<g id="L44" transform="translate(447.4,870)"><rect class="w g4"/><text y="5.2">No meaningful emp NE<tspan x="0" dy="6">0.75</tspan><tspan x="0" dy="6">0%</tspan></text></g>
<g id="L45" transform="translate(455,870)"><rect class="w g2"/><text y="5.2">No meaningful emp NE<tspan x="0" dy="6">0.60</tspan><tspan x="0" dy="6">0%</tspan></text></g>
<g id="L46" transform="translate(462.6,870)"><rect class="w g5"/><text y="5.2">No meaningful emp NE<tspan x="0" dy="6">0.80</tspan><tspan x="0" dy="6">0%</tspan></text></g>
<g id="L47" transform="translate(470.2,870)"><rect class="w g1"/><text y="5.2">No meaningful emp NE<tspan x="0" dy="6">0.55</tspan><tspan x="0" dy="6">0%</tspan></text></g>
<g id="L48" transform="translate(477.8,870)"><rect class="m b3"/><text y="5.2">Meaningful emp NE<tspan x="0" dy="6">0.41</tspan><tspan x="0" dy="6">0%</tspan></text></g>
<g id="L49" transform="translate(485.4,870)"><rect class="w g4"/><text y="5.2">No meaningful emp NE<tspan x="0" dy="6">0.74</tspan><tspan x="0" dy="6">0%</tspan></text></g>
<g id="L50" transform="translate(493,870)"><rect class="w g3"/><text y="5.2">No meaningful emp NE<tspan x="0" dy="6">0.69</tspan><tspan x="0" dy="6">0%</tspan></text></g>
<g id="L51" transform="translate(500.6,870)"><rect class="w g5"/><text y="5.2">No meaningful emp NE<tspan x="0" dy="6">0.81</tspan><tspan x="0" dy="6">1%</tspan></text></g>
<g id="L52" transform="translate(508.2,870)"><rect class="w g2"/><text y="5.2">No meaningful emp NE<tspan x="0" dy="6">0.63</tspan><tspan x="0" dy="6">0%</tspan></text></g>
<g id="L53" transform="translate(515.8,870)"><rect class="w g4"/><text y="5.2">No meaningful emp NE<tspan x="0" dy="6">0.77</tspan><tspan x="0" dy="6">0%</tspan></text></g>
<g id="L54" transform="translate(523.4,870)"><rect class="m b2"/><text y="5.2">Meaningful emp NE<tspan x="0" dy="6">0.45</tspan><tspan x="0" dy="6">0%</tspan></text></g>
<g id="L55" transform="translate(531,870)"><rect class="w g5"/><text y="5.2">No meaningful emp NE<tspan x="0" dy="6">0.82</tspan><tspan x="0" dy="6">0%</tspan></text></g>
<g id="L56" transform="translate(538.6,870)"><rect class="w g3"/><text y="5.2">No meaningful emp NE<tspan x="0" dy="6">0.70</tspan><tspan x="0" dy="6">0%</tspan></text></g>
<g id="L57" transform="translate(546.2,870)"><rect class="w g6"/><text y="5.2">No meaningful emp NE<tspan x="0" dy="6">0.85</tspan><tspan x="0" dy="6">1%</tspan></text></g>
<g id="L58" transform="translate(553.8,870)"><rect class="w g2"/><text y="5.2">No meaningful emp NE<tspan x="0" dy="6">0.61</tspan><tspan x="0" dy="6">0%</tspan></text></g>
<g id="L59" transform="translate(561.4,870)"><rect class="w g4"/><text y="5.2">No meaningful emp NE<tspan x="0" dy="6">0.76</tspan><tspan x="0" dy="6">0%</tspan></text></g>
<g id="L60" transform="translate(569,870)"><rect class="w g5"/><text y="5.2">No meaningful emp NE<tspan x="0" dy="6">0.79</tspan><tspan x="0" dy="6">0%</tspan></text></g>
<g id="L61" transform="translate(576.6,870)"><rect class="w g3"/><text y="5.2">No meaningful emp NE<tspan x="0" dy="6">0.66</tspan><tspan x="0" dy="6">0%</tspan></text></g>
<g id="L62" transform="translate(584.2,870)"><rect class="m b3"/><text y="5.2">Meaningful emp NE<tspan x="0" dy="6">0.42</tspan><tspan x="0" dy="6">0%</tspan></text></g>
<g id="L63" transform="translate(591.8,870)"><rect class="w g6"/><text y="5.2">No meaningful emp NE<tspan x="0" dy="6">0.84</tspan><tspan x="0" dy="6">0%</tspan></text></g>
<g id="L64" transform="translate(599.4,870)"><rect class="w g4"/><text y="5.2">No meaningful emp NE<tspan x="0" dy="6">0.73</tspan><tspan x="0" dy="6">0%</tspan></text></g>
<g id="L65" transform="translate(607,870)"><rect class="w g2"/><text y="5.2">No meaningful emp NE<tspan x="0" dy="6">0.64</tspan><tspan x="0" dy="6">0%</tspan></text></g>
<g id="L66" transform="translate(614.6,870)"><rect class="w g5"/><text y="5.2">No meaningful emp NE<tspan x="0" dy="6">0.80</tspan><tspan x="0" dy="6">1%</tspan></text></g>
<g id="L67" transform="translate(622.2,870)"><rect class="w g4"/><text y="5.2">No meaningful emp NE<tspan x="0" dy="6">0.78</tspan><tspan x="0" dy="6">0%</tspan></text></g>
<g id="L68" transform="translate(629.8,870)"><rect class="w g6"/><text y="5.2">No meaningful emp NE<tspan x="0" dy="6">0.86</tspan><tspan x="0" dy="6">0%</tspan></text></g>
<g id="L69" transform="translate(637.4,870)"><rect class="w g3"/><text y="5.2">No meaningful emp NE<tspan x="0" dy="6">0.71</tspan><tspan x="0" dy="6">0%</tspan></text></g>
<g id="L70" transform="translate(645,870)"><rect class="w g5"/><text y="5.2">No meaningful emp NE<tspan x="0" dy="6">0.81</tspan><tspan x="0" dy="6">0%</tspan></text></g>
<g id="L71" transform="translate(652.6,870)"><rect class="w g4"/><text y="5.2">No meaningful emp NE<tspan x="0" dy="6">0.75</tspan><tspan x="0" dy="6">1%</tspan></text></g>
<g id="L72" transform="translate(660.2,870)"><rect class="m b3"/><text y="5.2">Meaningful emp NE<tspan x="0" dy="6">0.40</tspan><tspan x="0" dy="6">0%</tspan></text></g>
<g id="L73" transform="translate(667.8,870)"><rect class="w g6"/><text y="5.2">No meaningful emp NE<tspan x="0" dy="6">0.85</tspan><tspan x="0" dy="6">0%</tspan></text></g>
<g id="L74" transform="translate(675.4,870)"><rect class="w g5"/><text y="5.2">No meaningful emp NE<tspan x="0" dy="6">0.82</tspan><tspan x="0" dy="6">1%</tspan></text></g>
<g id="L75" transform="translate(683,870)"><rect class="w g4"/><text y="5.2">No meaningful emp NE<tspan x="0" dy="6">0.77</tspan><tspan x="0" dy="6">0%</tspan></text></g>
<g id="L76" transform="translate(690.6,870)"><rect class="w g3"/><text y="5.2">No meaningful emp NE<tspan x="0" dy="6">0.69</tspan><tspan x="0" dy="6">0%</tspan></text></g>
<g id="L77" transform="translate(698.2,870)"><rect class="m b2"/><text y="5.2">Meaningful emp NE<tspan x="0" dy="6">0.46</tspan><tspan x="0" dy="6">0%</tspan></text></g>
<g id="L78" transform="translate(705.8,870)"><rect class="w g6"/><text y="5.2">No meaningful emp NE<tspan x="0" dy="6">0.84</tspan><tspan x="0" dy="6">1%</tspan></text></g>
<g id="L79" transform="translate(713.4,870)"><rect class="m b4"/><text y="5.2">Meaningful emp NE<tspan x="0" dy="6">0.38</tspan><tspan x="0" dy="6">0%</tspan></text></g>
<g id="L80" transform="translate(721,870)"><rect class="w g5"/><text y="5.2">No meaningful emp NE<tspan x="0" dy="6">0.80</tspan><tspan x="0" dy="6">0%</tspan></text></g>
<g id="L81" transform="translate(728.6,870)"><rect class="w g7"/><text y="5.2">No meaningful emp NE<tspan x="0" dy="6">0.88</tspan><tspan x="0" dy="6">1%</tspan></text></g>
<g id="L82" transform="translate(736.2,870)"><rect class="w g4"/><text y="5.2">No meaningful emp NE<tspan x="0" dy="6">0.76</tspan><tspan x="0" dy="6">0%</tspan></text></g>
<g id="L83" transform="translate(743.8,870)"><rect class="w g6"/><text y="5.2">No meaningful emp NE<tspan x="0" dy="6">0.85</tspan><tspan x="0" dy="6">0%</tspan></text></g>
<g id="L84" transform="translate(751.4,870)"><rect class="w g3"/><text y="5.2">No meaningful emp NE<tspan x="0" dy="6">0.72</tspan><tspan x="0" dy="6">0%</tspan></text></g>
<g id="L85" transform="translate(759,870)"><rect class="w g5"/><text y="5.2">No meaningful emp NE<tspan x="0" dy="6">0.81</tspan><tspan x="0" dy="6">1%</tspan></text></g>
<g id="L86" transform="translate(766.6,870)"><rect class="w g7"/><text y="5.2">No meaningful emp NE<tspan x="0" dy="6">0.89</tspan><tspan x="0" dy="6">0%</tspan></text></g>
<g id="L87" transform="translate(774.2,870)"><rect class="w g4"/><text y="5.2">No meaningful emp NE<tspan x="0" dy="6">0.78</tspan><tspan x="0" dy="6">0%</tspan></text></g>
<g id="L88" transform="translate(781.8,870)"><rect class="w g6"/><text y="5.2">No meaningful emp NE<tspan x="0" dy="6">0.84</tspan><tspan x="0" dy="6">1%</tspan></text></g>
<g id="L89" transform="translate(789.4,870)"><rect class="w g2"/><text y="5.2">No meaningful emp NE<tspan x="0" dy="6">0.64</tspan><tspan x="0" dy="6">0%</tspan></text></g>
<g id="L90" transform="translate(797,870)"><rect class="w g5"/><text y="5.2">No meaningful emp NE<tspan x="0" dy="6">0.82</tspan><tspan x="0" dy="6">0%</tspan></text></g>
<g id="L91" transform="translate(804.6,870)"><rect class="w g7"/><text y="5.2">No meaningful emp NE<tspan x="0" dy="6">0.87</tspan><tspan x="0" dy="6">1%</tspan></text></g>
<g id="L92" transform="translate(812.2,870)"><rect class="w g4"/><text y="5.2">No meaningful emp NE<tspan x="0" dy="6">0.75</tspan><tspan x="0" dy="6">0%</tspan></text></g>
<g id="L93" transform="translate(819.8,870)"><rect class="w g6"/><text y="5.2">No meaningful emp NE<tspan x="0" dy="6">0.86</tspan><tspan x="0" dy="6">1%</tspan></text></g>
<g id="L94" transform="translate(827.4,870)"><rect class="w g8"/><text y="5.2">No meaningful emp NE<tspan x="0" dy="6">0.91</tspan><tspan x="0" dy="6">0%</tspan></text></g>
<g id="L95" transform="translate(835,870)"><rect class="w g5"/><text y="5.2">No meaningful emp NE<tspan x="0" dy="6">0.80</tspan><tspan x="0" dy="6">0%</tspan></text></g>
<g id="L96" transform="translate(842.6,870)"><rect class="w g3"/><text y="5.2">No meaningful emp NE<tspan x="0" dy="6">0.70</tspan><tspan x="0" dy="6">0%</tspan></text></g>
<g id="L97" transform="translate(850.2,870)"><rect class="w g6"/><text y="5.2">No meaningful emp NE<tspan x="0" dy="6">0.85</tspan><tspan x="0" dy="6">1%</tspan></text></g>
<g id="L98" transform="translate(857.8,870)"><rect class="w g7"/><text y="5.2">No meaningful emp NE<tspan x="0" dy="6">0.88</tspan><tspan x="0" dy="6">0%</tspan></text></g>
<g id="L99" transform="translate(865.4,870)"><rect class="w g4"/><text y="5.2">No meaningful emp NE<tspan x="0" dy="6">0.77</tspan><tspan x="0" dy="6">1%</tspan></text></g>
<g id="L100" transform="translate(873,870)"><rect class="w g6"/><text y="5.2">No meaningful emp NE<tspan x="0" dy="6">0.83</tspan><tspan x="0" dy="6">0%</tspan></text></g>
<g id="L101" transform="translate(880.6,870)"><rect class="w g8"/><text y="5.2">No meaningful emp NE<tspan x="0" dy="6">0.92</tspan><tspan x="0" dy="6">1%</tspan></text></g>
<g id="L102" transform="translate(888.2,870)"><rect class="w g5"/><text y="5.2">No meaningful emp NE<tspan x="0" dy="6">0.81</tspan><tspan x="0" dy="6">0%</tspan></text></g>
<g id="L103" transform="translate(895.8,870)"><rect class="w g7"/><text y="5.2">No meaningful emp NE<tspan x="0" dy="6">0.89</tspan><tspan x="0" dy="6">1%</tspan></text></g>
<g id="L104" transform="translate(903.4,870)"><rect class="w g3"/><text y="5.2">No meaningful emp NE<tspan x="0" dy="6">0.68</tspan><tspan x="0" dy="6">0%</tspan></text></g>
<g id="L105" transform="translate(911,870)"><rect class="w g6"/><text y="5.2">No meaningful emp NE<tspan x="0" dy="6">0.86</tspan><tspan x="0" dy="6">1%</tspan></text></g>
<g id="L106" transform="translate(918.6,870)"><rect class="w g8"/><text y="5.2">No meaningful emp NE<tspan x="0" dy="6">0.90</tspan><tspan x="0" dy="6">0%</tspan></text></g>
<g id="L107" transform="translate(926.2,870)"><rect class="w g5"/><text y="5.2">No meaningful emp NE<tspan x="0" dy="6">0.82</tspan><tspan x="0" dy="6">1%</tspan></text></g>
<g id="L108" transform="translate(933.8,870)"><rect class="w g7"/><text y="5.2">No meaningful emp NE<tspan x="0" dy="6">0.87</tspan><tspan x="0" dy="6">0%</tspan></text></g>
<g id="L109" transform="translate(941.4,870)"><rect class="w g4"/><text y="5.2">No meaningful emp NE<tspan x="0" dy="6">0.76</tspan><tspan x="0" dy="6">0%</tspan></text></g>
<g id="L110" transform="translate(949,870)"><rect class="w g6"/><text y="5.2">No meaningful emp NE<tspan x="0" dy="6">0.84</tspan><tspan x="0" dy="6">1%</tspan></text></g>
<g id="L111" transform="translate(956.6,870)"><rect class="w g8"/><text y="5.2">No meaningful emp NE<tspan x="0" dy="6">0.93</tspan><tspan x="0" dy="6">0%</tspan></text></g>
<g id="L112" transform="translate(964.2,870)"><rect class="w g2"/><text y="5.2">No meaningful emp NE<tspan x="0" dy="6">0.63</tspan><tspan x="0" dy="6">0%</tspan></text></g>
<g id="L113" transform="translate(971.8,870)"><rect class="w g6"/><text y="5.2">No meaningful emp NE<tspan x="0" dy="6">0.85</tspan><tspan x="0" dy="6">1%</tspan></text></g>
<g id="L114" transform="translate(979.4,870)"><rect class="w g7"/><text y="5.2">No meaningful emp NE<tspan x="0" dy="6">0.89</tspan><tspan x="0" dy="6">0%</tspan></text></g>
<g id="L115" transform="translate(987,870)"><rect class="w g5"/><text y="5.2">No meaningful emp NE<tspan x="0" dy="6">0.80</tspan><tspan x="0" dy="6">1%</tspan></text></g>
<g id="L116" transform="translate(994.6,870)"><rect class="w g7"/><text y="5.2">No meaningful emp NE<tspan x="0" dy="6">0.88</tspan><tspan x="0" dy="6">1%</tspan></text></g>
<g id="L117" transform="translate(1002.2,870)"><rect class="w g4"/><text y="5.2">No meaningful emp NE<tspan x="0" dy="6">0.78</tspan><tspan x="0" dy="6">0%</tspan></text></g>
<g id="L118" transform="translate(1009.8,870)"><rect class="w g8"/><text y="5.2">No meaningful emp NE<tspan x="0" dy="6">0.91</tspan><tspan x="0" dy="6">1%</tspan></text></g>
<g id="L119" transform="translate(1017.4,870)"><rect class="w g6"/><text y="5.2">No meaningful emp NE<tspan x="0" dy="6">0.86</tspan><tspan x="0" dy="6">0%</tspan></text></g>
<g id="L120" transform="translate(1025,870)"><rect class="w g9"/><text y="5.2">No meaningful emp NE<tspan x="0" dy="6">0.95</tspan><tspan x="0" dy="6">1%</tspan></text></g>
<g id="L121" transform="translate(1032.6,870)"><rect class="w g5"/><text y="5.2">No meaningful emp NE<tspan x="0" dy="6">0.82</tspan><tspan x="0" dy="6">0%</tspan></text></g>
<g id="L122" transform="translate(1040.2,870)"><rect class="w g7"/><text y="5.2">No meaningful emp NE<tspan x="0" dy="6">0.88</tspan><tspan x="0" dy="6">1%</tspan></text></g>
<g id="L123" transform="translate(1047.8,870)"><rect class="w g3"/><text y="5.2">No meaningful emp NE<tspan x="0" dy="6">0.71</tspan><tspan x="0" dy="6">0%</tspan></text></g>
<g id="L124" transform="translate(1055.4,870)"><rect class="w g8"/><text y="5.2">No meaningful emp NE<tspan x="0" dy="6">0.92</tspan><tspan x="0" dy="6">1%</tspan></text></g>
<g id="L125" transform="translate(1063,870)"><rect class="w g6"/><text y="5.2">No meaningful emp NE<tspan x="0" dy="6">0.84</tspan><tspan x="0" dy="6">0%</tspan></text></g>
<g id="L126" transform="translate(1070.6,870)"><rect class="w g7"/><text y="5.2">No meaningful emp NE<tspan x="0" dy="6">0.89</tspan><tspan x="0" dy="6">2%</tspan></text></g>
<g id="L127" transform="translate(1078.2,870)"><rect class="w g9"/><text y="5.2">No meaningful emp NE<tspan x="0" dy="6">0.96</tspan><tspan x="0" dy="6">1%</tspan></text></g>
<g id="L128" transform="translate(1085.8,870)"><rect class="w g5"/><text y="5.2">No meaningful emp NE<tspan x="0" dy="6">0.81</tspan><tspan x="0" dy="6">0%</tspan></text></g>
<g id="L129" transform="translate(1093.4,870)"><rect class="w g8"/><text y="5.2">No meaningful emp NE<tspan x="0" dy="6">0.93</tspan><tspan x="0" dy="6">1%</tspan></text></g>
<g id="L130" transform="translate(1101,870)"><rect class="w g6"/><text y="5.2">No meaningful emp NE<tspan x="0" dy="6">0.86</tspan><tspan x="0" dy="6">1%</tspan></text></g>
<g id="L131" transform="translate(1108.6,870)"><rect class="w g7"/><text y="5.2">No meaningful emp NE<tspan x="0" dy="6">0.88</tspan><tspan x="0" dy="6">2%</tspan></text></g>
<g id="L132" transform="translate(1116.2,870)"><rect class="w g4"/><text y="5.2">No meaningful emp NE<tspan x="0" dy="6">0.77</tspan><tspan x="0" dy="6">0%</tspan></text></g>
<g id="L133" transform="translate(1123.8,870)"><rect class="w g8"/><text y="5.2">No meaningful emp NE<tspan x="0" dy="6">0.92</tspan><tspan x="0" dy="6">1%</tspan></text></g>
<g id="L134" transform="translate(1131.4,870)"><rect class="w g6"/><text y="5.2">No meaningful emp NE<tspan x="0" dy="6">0.85</tspan><tspan x="0" dy="6">1%</tspan></text></g>
<g id="L135" transform="translate(1139,870)"><rect class="w g9"/><text y="5.2">No meaningful emp NE<tspan x="0" dy="6">0.95</tspan><tspan x="0" dy="6">2%</tspan></text></g>
<g id="L136" transform="translate(1146.6,870)"><rect class="w g7"/><text y="5.2">No meaningful emp NE<tspan x="0" dy="6">0.89</tspan><tspan x="0" dy="6">1%</tspan></text></g>
<g id="L137" transform="translate(1154.2,870)"><rect class="w g5"/><text y="5.2">No meaningful emp NE<tspan x="0" dy="6">0.82</tspan><tspan x="0" dy="6">0%</tspan></text></g>
<g id="L138" transform="translate(1161.8,870)"><rect class="w g8"/><text y="5.2">No meaningful emp NE<tspan x="0" dy="6">0.91</tspan><tspan x="0" dy="6">2%</tspan></text></g>
<g id="L139" transform="translate(1169.4,870)"><rect class="w g7"/><text y="5.2">No meaningful emp NE<tspan x="0" dy="6">0.87</tspan><tspan x="0" dy="6">1%</tspan></text></g>
<g id="L140" transform="translate(1177,870)"><rect class="w g9"/><text y="5.2">No meaningful emp NE<tspan x="0" dy="6">0.94</tspan><tspan x="0" dy="6">2%</tspan></text></g>
<g id="L141" transform="translate(1184.6,870)"><rect class="w g6"/><text y="5.2">No meaningful emp NE<tspan x="0" dy="6">0.85</tspan><tspan x="0" dy="6">1%</tspan></text></g>
<g id="L142" transform="translate(1192.2,870)"><rect class="w g8"/><text y="5.2">No meaningful emp NE<tspan x="0" dy="6">0.93</tspan><tspan x="0" dy="6">3%</tspan></text></g>
<g id="L143" transform="translate(1199.8,870)"><rect class="w g7"/><text y="5.2">No meaningful emp NE<tspan x="0" dy="6">0.89</tspan><tspan x="0" dy="6">2%</tspan></text></g>
<g id="L144" transform="translate(1207.4,870)"><rect class="w g9"/><text y="5.2">No meaningful emp NE<tspan x="0" dy="6">0.96</tspan><tspan x="0" dy="6">3%</tspan></text></g>
<g id="L145" transform="translate(1215,870)"><rect class="w g8"/><text y="5.2">No meaningful emp NE<tspan x="0" dy="6">0.92</tspan><tspan x="0" dy="6">4%</tspan></text></g>
<g id="L146" transform="translate(1222.6,870)"><rect class="w g6"/><text y="5.2">No meaningful emp NE<tspan x="0" dy="6">0.86</tspan><tspan x="0" dy="6">5%</tspan></text></g>
</svg>
